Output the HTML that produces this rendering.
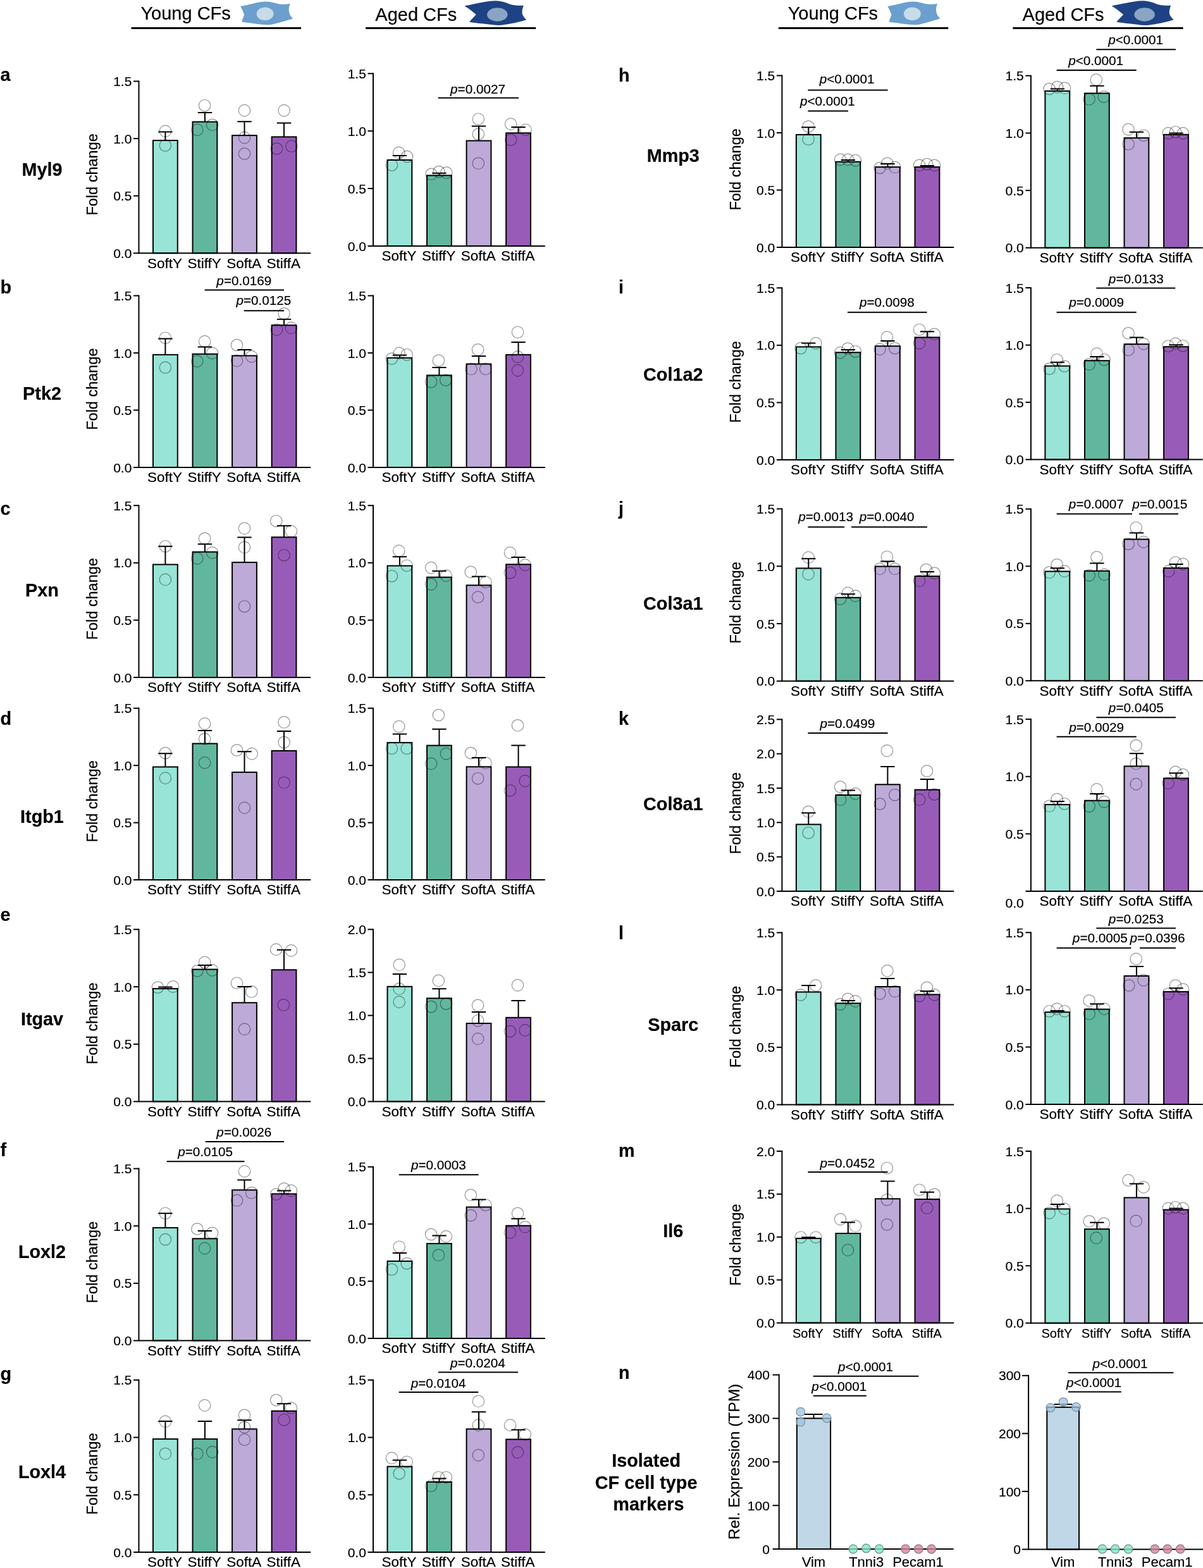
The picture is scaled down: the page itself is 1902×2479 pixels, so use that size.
<!DOCTYPE html>
<html><head><meta charset="utf-8"><title>Figure</title>
<style>html,body{margin:0;padding:0;background:#fff;}svg{display:block;}text{font-family:"Liberation Sans",Arial,sans-serif;fill:#000;stroke:#000;stroke-width:0.2px;}.t{font-size:21px;}.yt{font-size:23.5px;}.p{font-size:20.7px;}.h{font-size:29px;}.b{font-size:28.8px;font-weight:bold;}.c{fill:none;stroke:#000;stroke-opacity:0.42;stroke-width:1.2;}</style>
</head><body>
<svg width="1902" height="2479" viewBox="0 0 1902 2479">
<rect width="1902" height="2479" fill="#fff"/>
<text x="222.4" y="31.4" class="h">Young CFs</text>
<path d="M207.6 44.5H476" stroke="#000" stroke-width="3.2"/>
<g transform="translate(0 0)"><path d="M380.1 10.1 C395 7 410 2.4 420 2.4 C430 2.4 438 6 445 6.8 C450 7.2 455 6.5 458.7 5.7 C457 10 456 15 457.2 19.6 C458 24 461 27 463.2 29.5 C455 32 447 34.5 441.4 35.7 C435 37.5 428 39.3 423.6 39.3 C415 39.3 407 37.5 399.8 36.9 C393 36.3 387 35.5 382.5 34.8 C383 30 385 27 386.1 23.8 C385 19 382 14 380.1 10.1 Z" fill="#6b9fcd"/><ellipse cx="419.1" cy="21.9" rx="13.4" ry="10.3" fill="#c8dbe8"/></g>
<text x="593.3" y="33.3" class="h">Aged CFs</text>
<path d="M578.1 44.5H847.2" stroke="#000" stroke-width="3.2"/>
<g transform="translate(0 0)"><path d="M734.3 9.3 C752 6 770 1.3 783.3 1.3 C795 1.3 802 5.5 808 7.3 C815 9 822 9 828 8.7 C826 13 825 18 825.7 22 C827 26 830 29 832.3 31.3 C824 34 815 36 808 37.3 C801 38.6 794 40 788 40 C779 40 770 38 761.3 37.3 C754 36.5 747 35.5 742 34.7 C746 30 750 26 752.7 23 C747 18 740 13 734.3 9.3 Z" fill="#1e4283"/><ellipse cx="786.3" cy="23" rx="16.3" ry="10.7" fill="#8aa4c4"/></g>
<text x="1245.7" y="31.4" class="h">Young CFs</text>
<path d="M1230.9 44.5H1499.3" stroke="#000" stroke-width="3.2"/>
<g transform="translate(1023.3 0)"><path d="M380.1 10.1 C395 7 410 2.4 420 2.4 C430 2.4 438 6 445 6.8 C450 7.2 455 6.5 458.7 5.7 C457 10 456 15 457.2 19.6 C458 24 461 27 463.2 29.5 C455 32 447 34.5 441.4 35.7 C435 37.5 428 39.3 423.6 39.3 C415 39.3 407 37.5 399.8 36.9 C393 36.3 387 35.5 382.5 34.8 C383 30 385 27 386.1 23.8 C385 19 382 14 380.1 10.1 Z" fill="#6b9fcd"/><ellipse cx="419.1" cy="21.9" rx="13.4" ry="10.3" fill="#c8dbe8"/></g>
<text x="1616.6" y="33.3" class="h">Aged CFs</text>
<path d="M1601.4 44.5H1870.5" stroke="#000" stroke-width="3.2"/>
<g transform="translate(1023.3 0)"><path d="M734.3 9.3 C752 6 770 1.3 783.3 1.3 C795 1.3 802 5.5 808 7.3 C815 9 822 9 828 8.7 C826 13 825 18 825.7 22 C827 26 830 29 832.3 31.3 C824 34 815 36 808 37.3 C801 38.6 794 40 788 40 C779 40 770 38 761.3 37.3 C754 36.5 747 35.5 742 34.7 C746 30 750 26 752.7 23 C747 18 740 13 734.3 9.3 Z" fill="#1e4283"/><ellipse cx="786.3" cy="23" rx="16.3" ry="10.7" fill="#8aa4c4"/></g>
<rect x="242" y="222" width="38.8" height="178.2" fill="#98e4d6" stroke="#000" stroke-width="2"/>
<path d="M261.4 222V208.6M250.2 208.6H272.6" stroke="#000" stroke-width="2" fill="none"/>
<circle cx="261.4" cy="207.4" r="9.2" class="c"/>
<circle cx="261.4" cy="230" r="9.2" class="c"/>
<rect x="304.55" y="192.6" width="38.8" height="207.6" fill="#61b79e" stroke="#000" stroke-width="2"/>
<path d="M323.95 192.6V178M312.75 178H335.15" stroke="#000" stroke-width="2" fill="none"/>
<circle cx="323.6" cy="166.7" r="9.2" class="c"/>
<circle cx="311.8" cy="205.2" r="9.2" class="c"/>
<circle cx="335.6" cy="197.3" r="9.2" class="c"/>
<rect x="367.1" y="214.1" width="38.8" height="186.1" fill="#bdaad9" stroke="#000" stroke-width="2"/>
<path d="M386.5 214.1V192.3M375.3 192.3H397.7" stroke="#000" stroke-width="2" fill="none"/>
<circle cx="386.5" cy="174.6" r="9.2" class="c"/>
<circle cx="386.5" cy="217.6" r="9.2" class="c"/>
<circle cx="386.5" cy="243" r="9.2" class="c"/>
<rect x="429.65" y="216.4" width="38.8" height="183.8" fill="#985cb8" stroke="#000" stroke-width="2"/>
<path d="M449.05 216.4V194.5M437.85 194.5H460.25" stroke="#000" stroke-width="2" fill="none"/>
<circle cx="449.1" cy="174.6" r="9.2" class="c"/>
<circle cx="437.4" cy="235" r="9.2" class="c"/>
<circle cx="460.9" cy="231.2" r="9.2" class="c"/>
<path d="M219.5 127.5V401.2" stroke="#000" stroke-width="2"/>
<path d="M211 400.2H491.3" stroke="#000" stroke-width="2"/>
<text x="208.4" y="407.8" text-anchor="end" class="t">0.0</text>
<path d="M211 309.63H219.5" stroke="#000" stroke-width="2"/>
<text x="208.4" y="317.23" text-anchor="end" class="t">0.5</text>
<path d="M211 219.07H219.5" stroke="#000" stroke-width="2"/>
<text x="208.4" y="226.67" text-anchor="end" class="t">1.0</text>
<path d="M211 128.5H219.5" stroke="#000" stroke-width="2"/>
<text x="208.4" y="136.1" text-anchor="end" class="t">1.5</text>
<text x="260.6" y="423.5" text-anchor="middle" font-size="22.5">SoftY</text>
<text x="323.15" y="423.5" text-anchor="middle" font-size="22.5">StiffY</text>
<text x="385.7" y="423.5" text-anchor="middle" font-size="22.5">SoftA</text>
<text x="448.25" y="423.5" text-anchor="middle" font-size="22.5">StiffA</text>
<text transform="translate(153.8 275.9) rotate(-90)" text-anchor="middle" class="yt">Fold change</text>
<rect x="612.5" y="253" width="38.8" height="135.9" fill="#98e4d6" stroke="#000" stroke-width="2"/>
<path d="M631.9 253V245.9M620.7 245.9H643.1" stroke="#000" stroke-width="2" fill="none"/>
<circle cx="630.7" cy="241.4" r="9.2" class="c"/>
<circle cx="619.4" cy="261" r="9.2" class="c"/>
<circle cx="643.6" cy="247.5" r="9.2" class="c"/>
<rect x="675.05" y="277.4" width="38.8" height="111.5" fill="#61b79e" stroke="#000" stroke-width="2"/>
<path d="M694.45 277.4V273.7M683.25 273.7H705.65" stroke="#000" stroke-width="2" fill="none"/>
<circle cx="682" cy="275.3" r="9.2" class="c"/>
<circle cx="694" cy="271.5" r="9.2" class="c"/>
<circle cx="705.8" cy="273" r="9.2" class="c"/>
<rect x="737.6" y="222.5" width="38.8" height="166.4" fill="#bdaad9" stroke="#000" stroke-width="2"/>
<path d="M757 222.5V199.5M745.8 199.5H768.2" stroke="#000" stroke-width="2" fill="none"/>
<circle cx="756.3" cy="188.2" r="9.2" class="c"/>
<circle cx="756.3" cy="212" r="9.2" class="c"/>
<circle cx="756.3" cy="258.3" r="9.2" class="c"/>
<rect x="800.15" y="210.3" width="38.8" height="178.6" fill="#985cb8" stroke="#000" stroke-width="2"/>
<path d="M819.55 210.3V201.1M808.35 201.1H830.75" stroke="#000" stroke-width="2" fill="none"/>
<circle cx="807.6" cy="196.1" r="9.2" class="c"/>
<circle cx="831" cy="205.2" r="9.2" class="c"/>
<circle cx="807.6" cy="221" r="9.2" class="c"/>
<path d="M590 115.3V389.9" stroke="#000" stroke-width="2"/>
<path d="M581.5 388.9H861.8" stroke="#000" stroke-width="2"/>
<text x="578.9" y="396.5" text-anchor="end" class="t">0.0</text>
<path d="M581.5 298.03H590" stroke="#000" stroke-width="2"/>
<text x="578.9" y="305.63" text-anchor="end" class="t">0.5</text>
<path d="M581.5 207.17H590" stroke="#000" stroke-width="2"/>
<text x="578.9" y="214.77" text-anchor="end" class="t">1.0</text>
<path d="M581.5 116.3H590" stroke="#000" stroke-width="2"/>
<text x="578.9" y="123.9" text-anchor="end" class="t">1.5</text>
<text x="631.1" y="412.2" text-anchor="middle" font-size="22.5">SoftY</text>
<text x="693.65" y="412.2" text-anchor="middle" font-size="22.5">StiffY</text>
<text x="756.2" y="412.2" text-anchor="middle" font-size="22.5">SoftA</text>
<text x="818.75" y="412.2" text-anchor="middle" font-size="22.5">StiffA</text>
<path d="M692.7 154.7H820" stroke="#000" stroke-width="2"/>
<text x="755.5" y="147.7" text-anchor="middle" class="p"><tspan font-style="italic">p</tspan>=0.0027</text>
<rect x="242" y="560.8" width="38.8" height="178.1" fill="#98e4d6" stroke="#000" stroke-width="2"/>
<path d="M261.4 560.8V535.4M250.2 535.4H272.6" stroke="#000" stroke-width="2" fill="none"/>
<circle cx="261.4" cy="534.2" r="9.2" class="c"/>
<circle cx="261.4" cy="581" r="9.2" class="c"/>
<rect x="304.55" y="559.7" width="38.8" height="179.2" fill="#61b79e" stroke="#000" stroke-width="2"/>
<path d="M323.95 559.7V548.5M312.75 548.5H335.15" stroke="#000" stroke-width="2" fill="none"/>
<circle cx="323.6" cy="539.9" r="9.2" class="c"/>
<circle cx="311.8" cy="571.1" r="9.2" class="c"/>
<circle cx="335.6" cy="558.4" r="9.2" class="c"/>
<rect x="367.1" y="562.4" width="38.8" height="176.5" fill="#bdaad9" stroke="#000" stroke-width="2"/>
<path d="M386.5 562.4V553M375.3 553H397.7" stroke="#000" stroke-width="2" fill="none"/>
<circle cx="374.5" cy="545.5" r="9.2" class="c"/>
<circle cx="374.5" cy="570.4" r="9.2" class="c"/>
<circle cx="397.8" cy="563.6" r="9.2" class="c"/>
<rect x="429.65" y="514.2" width="38.8" height="224.7" fill="#985cb8" stroke="#000" stroke-width="2"/>
<path d="M449.05 514.2V504.8M437.85 504.8H460.25" stroke="#000" stroke-width="2" fill="none"/>
<circle cx="449.1" cy="495.8" r="9.2" class="c"/>
<circle cx="437.4" cy="521.3" r="9.2" class="c"/>
<circle cx="460.4" cy="518.4" r="9.2" class="c"/>
<path d="M219.5 466.5V739.9" stroke="#000" stroke-width="2"/>
<path d="M211 738.9H491.3" stroke="#000" stroke-width="2"/>
<text x="208.4" y="746.5" text-anchor="end" class="t">0.0</text>
<path d="M211 648.43H219.5" stroke="#000" stroke-width="2"/>
<text x="208.4" y="656.03" text-anchor="end" class="t">0.5</text>
<path d="M211 557.97H219.5" stroke="#000" stroke-width="2"/>
<text x="208.4" y="565.57" text-anchor="end" class="t">1.0</text>
<path d="M211 467.5H219.5" stroke="#000" stroke-width="2"/>
<text x="208.4" y="475.1" text-anchor="end" class="t">1.5</text>
<text x="260.6" y="762.2" text-anchor="middle" font-size="22.5">SoftY</text>
<text x="323.15" y="762.2" text-anchor="middle" font-size="22.5">StiffY</text>
<text x="385.7" y="762.2" text-anchor="middle" font-size="22.5">SoftA</text>
<text x="448.25" y="762.2" text-anchor="middle" font-size="22.5">StiffA</text>
<text transform="translate(153.8 615.1) rotate(-90)" text-anchor="middle" class="yt">Fold change</text>
<path d="M323.6 458.5H449.1" stroke="#000" stroke-width="2"/>
<text x="385.8" y="450.5" text-anchor="middle" class="p"><tspan font-style="italic">p</tspan>=0.0169</text>
<path d="M385.8 491.3H449.1" stroke="#000" stroke-width="2"/>
<text x="416.9" y="481.5" text-anchor="middle" class="p"><tspan font-style="italic">p</tspan>=0.0125</text>
<rect x="612.5" y="565.8" width="38.8" height="173.1" fill="#98e4d6" stroke="#000" stroke-width="2"/>
<path d="M631.9 565.8V561.4M620.7 561.4H643.1" stroke="#000" stroke-width="2" fill="none"/>
<circle cx="619.4" cy="567" r="9.2" class="c"/>
<circle cx="631.2" cy="558.4" r="9.2" class="c"/>
<circle cx="643.2" cy="560.7" r="9.2" class="c"/>
<rect x="675.05" y="593.4" width="38.8" height="145.5" fill="#61b79e" stroke="#000" stroke-width="2"/>
<path d="M694.45 593.4V581M683.25 581H705.65" stroke="#000" stroke-width="2" fill="none"/>
<circle cx="693.4" cy="570" r="9.2" class="c"/>
<circle cx="681.6" cy="603.7" r="9.2" class="c"/>
<circle cx="704.7" cy="601" r="9.2" class="c"/>
<rect x="737.6" y="575.5" width="38.8" height="163.4" fill="#bdaad9" stroke="#000" stroke-width="2"/>
<path d="M757 575.5V563M745.8 563H768.2" stroke="#000" stroke-width="2" fill="none"/>
<circle cx="755.6" cy="552.8" r="9.2" class="c"/>
<circle cx="745" cy="583.3" r="9.2" class="c"/>
<circle cx="767.6" cy="583.3" r="9.2" class="c"/>
<rect x="800.15" y="560.8" width="38.8" height="178.1" fill="#985cb8" stroke="#000" stroke-width="2"/>
<path d="M819.55 560.8V541M808.35 541H830.75" stroke="#000" stroke-width="2" fill="none"/>
<circle cx="818.5" cy="525.2" r="9.2" class="c"/>
<circle cx="818.5" cy="564.1" r="9.2" class="c"/>
<circle cx="818.5" cy="585.6" r="9.2" class="c"/>
<path d="M590 466.5V739.9" stroke="#000" stroke-width="2"/>
<path d="M581.5 738.9H861.8" stroke="#000" stroke-width="2"/>
<text x="578.9" y="746.5" text-anchor="end" class="t">0.0</text>
<path d="M581.5 648.43H590" stroke="#000" stroke-width="2"/>
<text x="578.9" y="656.03" text-anchor="end" class="t">0.5</text>
<path d="M581.5 557.97H590" stroke="#000" stroke-width="2"/>
<text x="578.9" y="565.57" text-anchor="end" class="t">1.0</text>
<path d="M581.5 467.5H590" stroke="#000" stroke-width="2"/>
<text x="578.9" y="475.1" text-anchor="end" class="t">1.5</text>
<text x="631.1" y="762.2" text-anchor="middle" font-size="22.5">SoftY</text>
<text x="693.65" y="762.2" text-anchor="middle" font-size="22.5">StiffY</text>
<text x="756.2" y="762.2" text-anchor="middle" font-size="22.5">SoftA</text>
<text x="818.75" y="762.2" text-anchor="middle" font-size="22.5">StiffA</text>
<rect x="242" y="892.5" width="38.8" height="178.6" fill="#98e4d6" stroke="#000" stroke-width="2"/>
<path d="M261.4 892.5V863.7M250.2 863.7H272.6" stroke="#000" stroke-width="2" fill="none"/>
<circle cx="261.4" cy="863.7" r="9.2" class="c"/>
<circle cx="261.4" cy="916.4" r="9.2" class="c"/>
<rect x="304.55" y="872.6" width="38.8" height="198.5" fill="#61b79e" stroke="#000" stroke-width="2"/>
<path d="M323.95 872.6V860.3M312.75 860.3H335.15" stroke="#000" stroke-width="2" fill="none"/>
<circle cx="323.6" cy="851.3" r="9.2" class="c"/>
<circle cx="311.8" cy="882.9" r="9.2" class="c"/>
<circle cx="335.6" cy="873.9" r="9.2" class="c"/>
<rect x="367.1" y="889.1" width="38.8" height="182" fill="#bdaad9" stroke="#000" stroke-width="2"/>
<path d="M386.5 889.1V849.4M375.3 849.4H397.7" stroke="#000" stroke-width="2" fill="none"/>
<circle cx="386.5" cy="835.4" r="9.2" class="c"/>
<circle cx="386.5" cy="865.3" r="9.2" class="c"/>
<circle cx="386.5" cy="958.7" r="9.2" class="c"/>
<rect x="429.65" y="849.3" width="38.8" height="221.8" fill="#985cb8" stroke="#000" stroke-width="2"/>
<path d="M449.05 849.3V831.3M437.85 831.3H460.25" stroke="#000" stroke-width="2" fill="none"/>
<circle cx="436.7" cy="823.7" r="9.2" class="c"/>
<circle cx="460.4" cy="839.9" r="9.2" class="c"/>
<circle cx="449.1" cy="877.7" r="9.2" class="c"/>
<path d="M219.5 798.2V1072.1" stroke="#000" stroke-width="2"/>
<path d="M211 1071.1H491.3" stroke="#000" stroke-width="2"/>
<text x="208.4" y="1078.7" text-anchor="end" class="t">0.0</text>
<path d="M211 980.47H219.5" stroke="#000" stroke-width="2"/>
<text x="208.4" y="988.07" text-anchor="end" class="t">0.5</text>
<path d="M211 889.83H219.5" stroke="#000" stroke-width="2"/>
<text x="208.4" y="897.43" text-anchor="end" class="t">1.0</text>
<path d="M211 799.2H219.5" stroke="#000" stroke-width="2"/>
<text x="208.4" y="806.8" text-anchor="end" class="t">1.5</text>
<text x="260.6" y="1094.4" text-anchor="middle" font-size="22.5">SoftY</text>
<text x="323.15" y="1094.4" text-anchor="middle" font-size="22.5">StiffY</text>
<text x="385.7" y="1094.4" text-anchor="middle" font-size="22.5">SoftA</text>
<text x="448.25" y="1094.4" text-anchor="middle" font-size="22.5">StiffA</text>
<text transform="translate(153.8 946.8) rotate(-90)" text-anchor="middle" class="yt">Fold change</text>
<rect x="612.5" y="894.5" width="38.8" height="176.6" fill="#98e4d6" stroke="#000" stroke-width="2"/>
<path d="M631.9 894.5V880.2M620.7 880.2H643.1" stroke="#000" stroke-width="2" fill="none"/>
<circle cx="630.7" cy="870.9" r="9.2" class="c"/>
<circle cx="619.4" cy="910.7" r="9.2" class="c"/>
<circle cx="643.2" cy="894.2" r="9.2" class="c"/>
<rect x="675.05" y="912.6" width="38.8" height="158.5" fill="#61b79e" stroke="#000" stroke-width="2"/>
<path d="M694.45 912.6V902.8M683.25 902.8H705.65" stroke="#000" stroke-width="2" fill="none"/>
<circle cx="681.6" cy="897.6" r="9.2" class="c"/>
<circle cx="681.6" cy="923.6" r="9.2" class="c"/>
<circle cx="705.4" cy="910.1" r="9.2" class="c"/>
<rect x="737.6" y="925.3" width="38.8" height="145.8" fill="#bdaad9" stroke="#000" stroke-width="2"/>
<path d="M757 925.3V911.6M745.8 911.6H768.2" stroke="#000" stroke-width="2" fill="none"/>
<circle cx="744.3" cy="904.4" r="9.2" class="c"/>
<circle cx="768" cy="920.2" r="9.2" class="c"/>
<circle cx="755.6" cy="944" r="9.2" class="c"/>
<rect x="800.15" y="892.3" width="38.8" height="178.8" fill="#985cb8" stroke="#000" stroke-width="2"/>
<path d="M819.55 892.3V881.1M808.35 881.1H830.75" stroke="#000" stroke-width="2" fill="none"/>
<circle cx="806.5" cy="873.9" r="9.2" class="c"/>
<circle cx="830.2" cy="893.1" r="9.2" class="c"/>
<circle cx="806.5" cy="905.5" r="9.2" class="c"/>
<path d="M590 798.2V1072.1" stroke="#000" stroke-width="2"/>
<path d="M581.5 1071.1H861.8" stroke="#000" stroke-width="2"/>
<text x="578.9" y="1078.7" text-anchor="end" class="t">0.0</text>
<path d="M581.5 980.47H590" stroke="#000" stroke-width="2"/>
<text x="578.9" y="988.07" text-anchor="end" class="t">0.5</text>
<path d="M581.5 889.83H590" stroke="#000" stroke-width="2"/>
<text x="578.9" y="897.43" text-anchor="end" class="t">1.0</text>
<path d="M581.5 799.2H590" stroke="#000" stroke-width="2"/>
<text x="578.9" y="806.8" text-anchor="end" class="t">1.5</text>
<text x="631.1" y="1094.4" text-anchor="middle" font-size="22.5">SoftY</text>
<text x="693.65" y="1094.4" text-anchor="middle" font-size="22.5">StiffY</text>
<text x="756.2" y="1094.4" text-anchor="middle" font-size="22.5">SoftA</text>
<text x="818.75" y="1094.4" text-anchor="middle" font-size="22.5">StiffA</text>
<rect x="242" y="1212.5" width="38.8" height="178.6" fill="#98e4d6" stroke="#000" stroke-width="2"/>
<path d="M261.4 1212.5V1191.2M250.2 1191.2H272.6" stroke="#000" stroke-width="2" fill="none"/>
<circle cx="261.4" cy="1190.5" r="9.2" class="c"/>
<circle cx="261.4" cy="1230.1" r="9.2" class="c"/>
<rect x="304.55" y="1175.6" width="38.8" height="215.5" fill="#61b79e" stroke="#000" stroke-width="2"/>
<path d="M323.95 1175.6V1155M312.75 1155H335.15" stroke="#000" stroke-width="2" fill="none"/>
<circle cx="323.6" cy="1144.1" r="9.2" class="c"/>
<circle cx="323.6" cy="1168.3" r="9.2" class="c"/>
<circle cx="323.6" cy="1205.9" r="9.2" class="c"/>
<rect x="367.1" y="1220.9" width="38.8" height="170.2" fill="#bdaad9" stroke="#000" stroke-width="2"/>
<path d="M386.5 1220.9V1188.2M375.3 1188.2H397.7" stroke="#000" stroke-width="2" fill="none"/>
<circle cx="374.5" cy="1186" r="9.2" class="c"/>
<circle cx="398.2" cy="1191.6" r="9.2" class="c"/>
<circle cx="386.5" cy="1277.1" r="9.2" class="c"/>
<rect x="429.65" y="1187" width="38.8" height="204.1" fill="#985cb8" stroke="#000" stroke-width="2"/>
<path d="M449.05 1187V1156.1M437.85 1156.1H460.25" stroke="#000" stroke-width="2" fill="none"/>
<circle cx="449.1" cy="1141.8" r="9.2" class="c"/>
<circle cx="449.1" cy="1173.5" r="9.2" class="c"/>
<circle cx="449.1" cy="1237.3" r="9.2" class="c"/>
<path d="M219.5 1118.7V1392.1" stroke="#000" stroke-width="2"/>
<path d="M211 1391.1H491.3" stroke="#000" stroke-width="2"/>
<text x="208.4" y="1398.7" text-anchor="end" class="t">0.0</text>
<path d="M211 1300.63H219.5" stroke="#000" stroke-width="2"/>
<text x="208.4" y="1308.23" text-anchor="end" class="t">0.5</text>
<path d="M211 1210.17H219.5" stroke="#000" stroke-width="2"/>
<text x="208.4" y="1217.77" text-anchor="end" class="t">1.0</text>
<path d="M211 1119.7H219.5" stroke="#000" stroke-width="2"/>
<text x="208.4" y="1127.3" text-anchor="end" class="t">1.5</text>
<text x="260.6" y="1414.4" text-anchor="middle" font-size="22.5">SoftY</text>
<text x="323.15" y="1414.4" text-anchor="middle" font-size="22.5">StiffY</text>
<text x="385.7" y="1414.4" text-anchor="middle" font-size="22.5">SoftA</text>
<text x="448.25" y="1414.4" text-anchor="middle" font-size="22.5">StiffA</text>
<text transform="translate(153.8 1266.8) rotate(-90)" text-anchor="middle" class="yt">Fold change</text>
<rect x="612.5" y="1174.1" width="38.8" height="217" fill="#98e4d6" stroke="#000" stroke-width="2"/>
<path d="M631.9 1174.1V1160.4M620.7 1160.4H643.1" stroke="#000" stroke-width="2" fill="none"/>
<circle cx="630.7" cy="1148.6" r="9.2" class="c"/>
<circle cx="619.4" cy="1183.2" r="9.2" class="c"/>
<circle cx="643.2" cy="1183.2" r="9.2" class="c"/>
<rect x="675.05" y="1178.6" width="38.8" height="212.5" fill="#61b79e" stroke="#000" stroke-width="2"/>
<path d="M694.45 1178.6V1152.7M683.25 1152.7H705.65" stroke="#000" stroke-width="2" fill="none"/>
<circle cx="693.4" cy="1130.5" r="9.2" class="c"/>
<circle cx="705.4" cy="1191.6" r="9.2" class="c"/>
<circle cx="681.6" cy="1207.4" r="9.2" class="c"/>
<rect x="737.6" y="1212.3" width="38.8" height="178.8" fill="#bdaad9" stroke="#000" stroke-width="2"/>
<path d="M757 1212.3V1197.9M745.8 1197.9H768.2" stroke="#000" stroke-width="2" fill="none"/>
<circle cx="744.3" cy="1190.5" r="9.2" class="c"/>
<circle cx="768" cy="1206.3" r="9.2" class="c"/>
<circle cx="755.6" cy="1230.7" r="9.2" class="c"/>
<rect x="800.15" y="1212.5" width="38.8" height="178.6" fill="#985cb8" stroke="#000" stroke-width="2"/>
<path d="M819.55 1212.5V1178.5M808.35 1178.5H830.75" stroke="#000" stroke-width="2" fill="none"/>
<circle cx="818.5" cy="1146.8" r="9.2" class="c"/>
<circle cx="830.2" cy="1234.6" r="9.2" class="c"/>
<circle cx="806.5" cy="1249.7" r="9.2" class="c"/>
<path d="M590 1118.7V1392.1" stroke="#000" stroke-width="2"/>
<path d="M581.5 1391.1H861.8" stroke="#000" stroke-width="2"/>
<text x="578.9" y="1398.7" text-anchor="end" class="t">0.0</text>
<path d="M581.5 1300.63H590" stroke="#000" stroke-width="2"/>
<text x="578.9" y="1308.23" text-anchor="end" class="t">0.5</text>
<path d="M581.5 1210.17H590" stroke="#000" stroke-width="2"/>
<text x="578.9" y="1217.77" text-anchor="end" class="t">1.0</text>
<path d="M581.5 1119.7H590" stroke="#000" stroke-width="2"/>
<text x="578.9" y="1127.3" text-anchor="end" class="t">1.5</text>
<text x="631.1" y="1414.4" text-anchor="middle" font-size="22.5">SoftY</text>
<text x="693.65" y="1414.4" text-anchor="middle" font-size="22.5">StiffY</text>
<text x="756.2" y="1414.4" text-anchor="middle" font-size="22.5">SoftA</text>
<text x="818.75" y="1414.4" text-anchor="middle" font-size="22.5">StiffA</text>
<rect x="242" y="1563.1" width="38.8" height="178.4" fill="#98e4d6" stroke="#000" stroke-width="2"/>
<path d="M261.4 1563.1V1560.6M250.2 1560.6H272.6" stroke="#000" stroke-width="2" fill="none"/>
<circle cx="249.4" cy="1561" r="9.2" class="c"/>
<circle cx="273.4" cy="1559.9" r="9.2" class="c"/>
<rect x="304.55" y="1532.6" width="38.8" height="208.9" fill="#61b79e" stroke="#000" stroke-width="2"/>
<path d="M323.95 1532.6V1526M312.75 1526H335.15" stroke="#000" stroke-width="2" fill="none"/>
<circle cx="323.6" cy="1521.4" r="9.2" class="c"/>
<circle cx="311.8" cy="1535" r="9.2" class="c"/>
<circle cx="335.6" cy="1533.9" r="9.2" class="c"/>
<rect x="367.1" y="1585.3" width="38.8" height="156.2" fill="#bdaad9" stroke="#000" stroke-width="2"/>
<path d="M386.5 1585.3V1559.9M375.3 1559.9H397.7" stroke="#000" stroke-width="2" fill="none"/>
<circle cx="374.5" cy="1554.2" r="9.2" class="c"/>
<circle cx="397.8" cy="1567.8" r="9.2" class="c"/>
<circle cx="386.5" cy="1627.1" r="9.2" class="c"/>
<rect x="429.65" y="1533.3" width="38.8" height="208.2" fill="#985cb8" stroke="#000" stroke-width="2"/>
<path d="M449.05 1533.3V1501.8M437.85 1501.8H460.25" stroke="#000" stroke-width="2" fill="none"/>
<circle cx="436.7" cy="1501.1" r="9.2" class="c"/>
<circle cx="460.4" cy="1502.9" r="9.2" class="c"/>
<circle cx="448.4" cy="1588.8" r="9.2" class="c"/>
<path d="M219.5 1468.4V1742.5" stroke="#000" stroke-width="2"/>
<path d="M211 1741.5H491.3" stroke="#000" stroke-width="2"/>
<text x="208.4" y="1749.1" text-anchor="end" class="t">0.0</text>
<path d="M211 1650.8H219.5" stroke="#000" stroke-width="2"/>
<text x="208.4" y="1658.4" text-anchor="end" class="t">0.5</text>
<path d="M211 1560.1H219.5" stroke="#000" stroke-width="2"/>
<text x="208.4" y="1567.7" text-anchor="end" class="t">1.0</text>
<path d="M211 1469.4H219.5" stroke="#000" stroke-width="2"/>
<text x="208.4" y="1477" text-anchor="end" class="t">1.5</text>
<text x="260.6" y="1764.8" text-anchor="middle" font-size="22.5">SoftY</text>
<text x="323.15" y="1764.8" text-anchor="middle" font-size="22.5">StiffY</text>
<text x="385.7" y="1764.8" text-anchor="middle" font-size="22.5">SoftA</text>
<text x="448.25" y="1764.8" text-anchor="middle" font-size="22.5">StiffA</text>
<text transform="translate(153.8 1618.1) rotate(-90)" text-anchor="middle" class="yt">Fold change</text>
<rect x="612.5" y="1559.8" width="38.8" height="181.7" fill="#98e4d6" stroke="#000" stroke-width="2"/>
<path d="M631.9 1559.8V1540M620.7 1540H643.1" stroke="#000" stroke-width="2" fill="none"/>
<circle cx="631.2" cy="1525.3" r="9.2" class="c"/>
<circle cx="631.2" cy="1563.3" r="9.2" class="c"/>
<circle cx="631.2" cy="1584.1" r="9.2" class="c"/>
<rect x="675.05" y="1578.3" width="38.8" height="163.2" fill="#61b79e" stroke="#000" stroke-width="2"/>
<path d="M694.45 1578.3V1563.3M683.25 1563.3H705.65" stroke="#000" stroke-width="2" fill="none"/>
<circle cx="693.4" cy="1550.4" r="9.2" class="c"/>
<circle cx="681.6" cy="1591.5" r="9.2" class="c"/>
<circle cx="705.4" cy="1587" r="9.2" class="c"/>
<rect x="737.6" y="1617.9" width="38.8" height="123.6" fill="#bdaad9" stroke="#000" stroke-width="2"/>
<path d="M757 1617.9V1600.1M745.8 1600.1H768.2" stroke="#000" stroke-width="2" fill="none"/>
<circle cx="755.6" cy="1589.3" r="9.2" class="c"/>
<circle cx="755.6" cy="1613.7" r="9.2" class="c"/>
<circle cx="755.6" cy="1642.4" r="9.2" class="c"/>
<rect x="800.15" y="1608.8" width="38.8" height="132.7" fill="#985cb8" stroke="#000" stroke-width="2"/>
<path d="M819.55 1608.8V1582M808.35 1582H830.75" stroke="#000" stroke-width="2" fill="none"/>
<circle cx="818.5" cy="1557.6" r="9.2" class="c"/>
<circle cx="806.5" cy="1630.5" r="9.2" class="c"/>
<circle cx="830.2" cy="1628.9" r="9.2" class="c"/>
<path d="M590 1468.4V1742.5" stroke="#000" stroke-width="2"/>
<path d="M581.5 1741.5H861.8" stroke="#000" stroke-width="2"/>
<text x="578.9" y="1749.1" text-anchor="end" class="t">0.0</text>
<path d="M581.5 1673.47H590" stroke="#000" stroke-width="2"/>
<text x="578.9" y="1681.07" text-anchor="end" class="t">0.5</text>
<path d="M581.5 1605.45H590" stroke="#000" stroke-width="2"/>
<text x="578.9" y="1613.05" text-anchor="end" class="t">1.0</text>
<path d="M581.5 1537.43H590" stroke="#000" stroke-width="2"/>
<text x="578.9" y="1545.03" text-anchor="end" class="t">1.5</text>
<path d="M581.5 1469.4H590" stroke="#000" stroke-width="2"/>
<text x="578.9" y="1477" text-anchor="end" class="t">2.0</text>
<text x="631.1" y="1764.8" text-anchor="middle" font-size="22.5">SoftY</text>
<text x="693.65" y="1764.8" text-anchor="middle" font-size="22.5">StiffY</text>
<text x="756.2" y="1764.8" text-anchor="middle" font-size="22.5">SoftA</text>
<text x="818.75" y="1764.8" text-anchor="middle" font-size="22.5">StiffA</text>
<rect x="242" y="1941.1" width="38.8" height="178.4" fill="#98e4d6" stroke="#000" stroke-width="2"/>
<path d="M261.4 1941.1V1918.2M250.2 1918.2H272.6" stroke="#000" stroke-width="2" fill="none"/>
<circle cx="261.4" cy="1918.2" r="9.2" class="c"/>
<circle cx="261.4" cy="1959.5" r="9.2" class="c"/>
<rect x="304.55" y="1958.3" width="38.8" height="161.2" fill="#61b79e" stroke="#000" stroke-width="2"/>
<path d="M323.95 1958.3V1946M312.75 1946H335.15" stroke="#000" stroke-width="2" fill="none"/>
<circle cx="311.8" cy="1943" r="9.2" class="c"/>
<circle cx="335.6" cy="1949.4" r="9.2" class="c"/>
<circle cx="323.6" cy="1973.6" r="9.2" class="c"/>
<rect x="367.1" y="1881.4" width="38.8" height="238.1" fill="#bdaad9" stroke="#000" stroke-width="2"/>
<path d="M386.5 1881.4V1865.5M375.3 1865.5H397.7" stroke="#000" stroke-width="2" fill="none"/>
<circle cx="386.5" cy="1851.9" r="9.2" class="c"/>
<circle cx="397.8" cy="1885.8" r="9.2" class="c"/>
<circle cx="374.5" cy="1897.8" r="9.2" class="c"/>
<rect x="429.65" y="1887.5" width="38.8" height="232" fill="#985cb8" stroke="#000" stroke-width="2"/>
<path d="M449.05 1887.5V1882.4M437.85 1882.4H460.25" stroke="#000" stroke-width="2" fill="none"/>
<circle cx="436.7" cy="1888.1" r="9.2" class="c"/>
<circle cx="449.1" cy="1879.3" r="9.2" class="c"/>
<circle cx="460.4" cy="1882.4" r="9.2" class="c"/>
<path d="M219.5 1846.6V2120.5" stroke="#000" stroke-width="2"/>
<path d="M211 2119.5H491.3" stroke="#000" stroke-width="2"/>
<text x="208.4" y="2127.1" text-anchor="end" class="t">0.0</text>
<path d="M211 2028.87H219.5" stroke="#000" stroke-width="2"/>
<text x="208.4" y="2036.47" text-anchor="end" class="t">0.5</text>
<path d="M211 1938.23H219.5" stroke="#000" stroke-width="2"/>
<text x="208.4" y="1945.83" text-anchor="end" class="t">1.0</text>
<path d="M211 1847.6H219.5" stroke="#000" stroke-width="2"/>
<text x="208.4" y="1855.2" text-anchor="end" class="t">1.5</text>
<text x="260.6" y="2142.8" text-anchor="middle" font-size="22.5">SoftY</text>
<text x="323.15" y="2142.8" text-anchor="middle" font-size="22.5">StiffY</text>
<text x="385.7" y="2142.8" text-anchor="middle" font-size="22.5">SoftA</text>
<text x="448.25" y="2142.8" text-anchor="middle" font-size="22.5">StiffA</text>
<text transform="translate(153.8 1995.6) rotate(-90)" text-anchor="middle" class="yt">Fold change</text>
<path d="M324.7 1805.1H449.1" stroke="#000" stroke-width="2"/>
<text x="385.8" y="1797.1" text-anchor="middle" class="p"><tspan font-style="italic">p</tspan>=0.0026</text>
<path d="M263.6 1836.3H386.5" stroke="#000" stroke-width="2"/>
<text x="324.7" y="1828.4" text-anchor="middle" class="p"><tspan font-style="italic">p</tspan>=0.0105</text>
<rect x="612.5" y="1993.9" width="38.8" height="122.1" fill="#98e4d6" stroke="#000" stroke-width="2"/>
<path d="M631.9 1993.9V1981M620.7 1981H643.1" stroke="#000" stroke-width="2" fill="none"/>
<circle cx="631.2" cy="1971.2" r="9.2" class="c"/>
<circle cx="619.4" cy="2007" r="9.2" class="c"/>
<circle cx="643.2" cy="1997.5" r="9.2" class="c"/>
<rect x="675.05" y="1966.1" width="38.8" height="149.9" fill="#61b79e" stroke="#000" stroke-width="2"/>
<path d="M694.45 1966.1V1953.4M683.25 1953.4H705.65" stroke="#000" stroke-width="2" fill="none"/>
<circle cx="681.6" cy="1951.5" r="9.2" class="c"/>
<circle cx="705.4" cy="1954.9" r="9.2" class="c"/>
<circle cx="693.4" cy="1984.3" r="9.2" class="c"/>
<rect x="737.6" y="1908.4" width="38.8" height="207.6" fill="#bdaad9" stroke="#000" stroke-width="2"/>
<path d="M757 1908.4V1896.6M745.8 1896.6H768.2" stroke="#000" stroke-width="2" fill="none"/>
<circle cx="744.3" cy="1889.3" r="9.2" class="c"/>
<circle cx="768" cy="1905.2" r="9.2" class="c"/>
<circle cx="744.3" cy="1921.5" r="9.2" class="c"/>
<rect x="800.15" y="1937.8" width="38.8" height="178.2" fill="#985cb8" stroke="#000" stroke-width="2"/>
<path d="M819.55 1937.8V1926.7M808.35 1926.7H830.75" stroke="#000" stroke-width="2" fill="none"/>
<circle cx="818.5" cy="1918.3" r="9.2" class="c"/>
<circle cx="830.2" cy="1939.8" r="9.2" class="c"/>
<circle cx="806.5" cy="1948.6" r="9.2" class="c"/>
<path d="M590 1843.8V2117" stroke="#000" stroke-width="2"/>
<path d="M581.5 2116H861.8" stroke="#000" stroke-width="2"/>
<text x="578.9" y="2123.6" text-anchor="end" class="t">0.0</text>
<path d="M581.5 2025.6H590" stroke="#000" stroke-width="2"/>
<text x="578.9" y="2033.2" text-anchor="end" class="t">0.5</text>
<path d="M581.5 1935.2H590" stroke="#000" stroke-width="2"/>
<text x="578.9" y="1942.8" text-anchor="end" class="t">1.0</text>
<path d="M581.5 1844.8H590" stroke="#000" stroke-width="2"/>
<text x="578.9" y="1852.4" text-anchor="end" class="t">1.5</text>
<text x="631.1" y="2139.3" text-anchor="middle" font-size="22.5">SoftY</text>
<text x="693.65" y="2139.3" text-anchor="middle" font-size="22.5">StiffY</text>
<text x="756.2" y="2139.3" text-anchor="middle" font-size="22.5">SoftA</text>
<text x="818.75" y="2139.3" text-anchor="middle" font-size="22.5">StiffA</text>
<path d="M630.7 1857.2H756.7" stroke="#000" stroke-width="2"/>
<text x="693.4" y="1848.6" text-anchor="middle" class="p"><tspan font-style="italic">p</tspan>=0.0003</text>
<rect x="242" y="2275.1" width="38.8" height="178.9" fill="#98e4d6" stroke="#000" stroke-width="2"/>
<path d="M261.4 2275.1V2247M250.2 2247H272.6" stroke="#000" stroke-width="2" fill="none"/>
<circle cx="261.4" cy="2247.4" r="9.2" class="c"/>
<circle cx="261.4" cy="2298.3" r="9.2" class="c"/>
<rect x="304.55" y="2275.1" width="38.8" height="178.9" fill="#61b79e" stroke="#000" stroke-width="2"/>
<path d="M323.95 2275.1V2247M312.75 2247H335.15" stroke="#000" stroke-width="2" fill="none"/>
<circle cx="323.6" cy="2221.9" r="9.2" class="c"/>
<circle cx="311.8" cy="2298.3" r="9.2" class="c"/>
<circle cx="335.6" cy="2295.6" r="9.2" class="c"/>
<rect x="367.1" y="2259.3" width="38.8" height="194.7" fill="#bdaad9" stroke="#000" stroke-width="2"/>
<path d="M386.5 2259.3V2245.2M375.3 2245.2H397.7" stroke="#000" stroke-width="2" fill="none"/>
<circle cx="386.5" cy="2237.3" r="9.2" class="c"/>
<circle cx="386.5" cy="2256.5" r="9.2" class="c"/>
<circle cx="386.5" cy="2276.2" r="9.2" class="c"/>
<rect x="429.65" y="2230.8" width="38.8" height="223.2" fill="#985cb8" stroke="#000" stroke-width="2"/>
<path d="M449.05 2230.8V2219.2M437.85 2219.2H460.25" stroke="#000" stroke-width="2" fill="none"/>
<circle cx="436.7" cy="2213.5" r="9.2" class="c"/>
<circle cx="460.4" cy="2226" r="9.2" class="c"/>
<circle cx="449.1" cy="2244.7" r="9.2" class="c"/>
<path d="M219.5 2180.8V2455" stroke="#000" stroke-width="2"/>
<path d="M211 2454H491.3" stroke="#000" stroke-width="2"/>
<text x="208.4" y="2461.6" text-anchor="end" class="t">0.0</text>
<path d="M211 2363.27H219.5" stroke="#000" stroke-width="2"/>
<text x="208.4" y="2370.87" text-anchor="end" class="t">0.5</text>
<path d="M211 2272.53H219.5" stroke="#000" stroke-width="2"/>
<text x="208.4" y="2280.13" text-anchor="end" class="t">1.0</text>
<path d="M211 2181.8H219.5" stroke="#000" stroke-width="2"/>
<text x="208.4" y="2189.4" text-anchor="end" class="t">1.5</text>
<text x="260.6" y="2477.3" text-anchor="middle" font-size="22.5">SoftY</text>
<text x="323.15" y="2477.3" text-anchor="middle" font-size="22.5">StiffY</text>
<text x="385.7" y="2477.3" text-anchor="middle" font-size="22.5">SoftA</text>
<text x="448.25" y="2477.3" text-anchor="middle" font-size="22.5">StiffA</text>
<text transform="translate(153.8 2330) rotate(-90)" text-anchor="middle" class="yt">Fold change</text>
<rect x="612.5" y="2318.6" width="38.8" height="135.4" fill="#98e4d6" stroke="#000" stroke-width="2"/>
<path d="M631.9 2318.6V2308.5M620.7 2308.5H643.1" stroke="#000" stroke-width="2" fill="none"/>
<circle cx="619.4" cy="2305.1" r="9.2" class="c"/>
<circle cx="643.2" cy="2311.2" r="9.2" class="c"/>
<circle cx="631.2" cy="2329.5" r="9.2" class="c"/>
<rect x="675.05" y="2343" width="38.8" height="111" fill="#61b79e" stroke="#000" stroke-width="2"/>
<path d="M694.45 2343V2337.5M683.25 2337.5H705.65" stroke="#000" stroke-width="2" fill="none"/>
<circle cx="693.4" cy="2335.7" r="9.2" class="c"/>
<circle cx="705.4" cy="2335.7" r="9.2" class="c"/>
<circle cx="681.6" cy="2349.2" r="9.2" class="c"/>
<rect x="737.6" y="2259.3" width="38.8" height="194.7" fill="#bdaad9" stroke="#000" stroke-width="2"/>
<path d="M757 2259.3V2232.3M745.8 2232.3H768.2" stroke="#000" stroke-width="2" fill="none"/>
<circle cx="756.3" cy="2215.3" r="9.2" class="c"/>
<circle cx="756.3" cy="2253.1" r="9.2" class="c"/>
<circle cx="756.3" cy="2300.6" r="9.2" class="c"/>
<rect x="800.15" y="2275.6" width="38.8" height="178.4" fill="#985cb8" stroke="#000" stroke-width="2"/>
<path d="M819.55 2275.6V2260.6M808.35 2260.6H830.75" stroke="#000" stroke-width="2" fill="none"/>
<circle cx="806.5" cy="2253.1" r="9.2" class="c"/>
<circle cx="830.2" cy="2267.8" r="9.2" class="c"/>
<circle cx="818.5" cy="2296.1" r="9.2" class="c"/>
<path d="M590 2180.8V2455" stroke="#000" stroke-width="2"/>
<path d="M581.5 2454H861.8" stroke="#000" stroke-width="2"/>
<text x="578.9" y="2461.6" text-anchor="end" class="t">0.0</text>
<path d="M581.5 2363.27H590" stroke="#000" stroke-width="2"/>
<text x="578.9" y="2370.87" text-anchor="end" class="t">0.5</text>
<path d="M581.5 2272.53H590" stroke="#000" stroke-width="2"/>
<text x="578.9" y="2280.13" text-anchor="end" class="t">1.0</text>
<path d="M581.5 2181.8H590" stroke="#000" stroke-width="2"/>
<text x="578.9" y="2189.4" text-anchor="end" class="t">1.5</text>
<text x="631.1" y="2477.3" text-anchor="middle" font-size="22.5">SoftY</text>
<text x="693.65" y="2477.3" text-anchor="middle" font-size="22.5">StiffY</text>
<text x="756.2" y="2477.3" text-anchor="middle" font-size="22.5">SoftA</text>
<text x="818.75" y="2477.3" text-anchor="middle" font-size="22.5">StiffA</text>
<path d="M693 2169.4H819" stroke="#000" stroke-width="2"/>
<text x="755.4" y="2162.2" text-anchor="middle" class="p"><tspan font-style="italic">p</tspan>=0.0204</text>
<path d="M630.7 2201.1H756.3" stroke="#000" stroke-width="2"/>
<text x="693.2" y="2193.8" text-anchor="middle" class="p"><tspan font-style="italic">p</tspan>=0.0104</text>
<rect x="1258.9" y="212.9" width="38.8" height="178.1" fill="#98e4d6" stroke="#000" stroke-width="2"/>
<path d="M1278.3 212.9V201.2M1267.1 201.2H1289.5" stroke="#000" stroke-width="2" fill="none"/>
<circle cx="1278.1" cy="200" r="9.2" class="c"/>
<circle cx="1278.1" cy="220.2" r="9.2" class="c"/>
<rect x="1321.45" y="255.8" width="38.8" height="135.2" fill="#61b79e" stroke="#000" stroke-width="2"/>
<path d="M1340.85 255.8V253.1M1329.65 253.1H1352.05" stroke="#000" stroke-width="2" fill="none"/>
<circle cx="1328.6" cy="252.4" r="9.2" class="c"/>
<circle cx="1340.5" cy="252.4" r="9.2" class="c"/>
<circle cx="1352.4" cy="253.6" r="9.2" class="c"/>
<rect x="1384" y="264.1" width="38.8" height="126.9" fill="#bdaad9" stroke="#000" stroke-width="2"/>
<path d="M1403.4 264.1V259M1392.2 259H1414.6" stroke="#000" stroke-width="2" fill="none"/>
<circle cx="1391" cy="265.5" r="9.2" class="c"/>
<circle cx="1402.9" cy="258.3" r="9.2" class="c"/>
<circle cx="1414.8" cy="264.3" r="9.2" class="c"/>
<rect x="1446.55" y="264.1" width="38.8" height="126.9" fill="#985cb8" stroke="#000" stroke-width="2"/>
<path d="M1465.95 264.1V261.9M1454.75 261.9H1477.15" stroke="#000" stroke-width="2" fill="none"/>
<circle cx="1453.6" cy="261.4" r="9.2" class="c"/>
<circle cx="1465.5" cy="259.5" r="9.2" class="c"/>
<circle cx="1477.4" cy="261.4" r="9.2" class="c"/>
<path d="M1236.4 118.5V392" stroke="#000" stroke-width="2"/>
<path d="M1227.9 391H1508.2" stroke="#000" stroke-width="2"/>
<text x="1225.3" y="398.6" text-anchor="end" class="t">0.0</text>
<path d="M1227.9 300.5H1236.4" stroke="#000" stroke-width="2"/>
<text x="1225.3" y="308.1" text-anchor="end" class="t">0.5</text>
<path d="M1227.9 210H1236.4" stroke="#000" stroke-width="2"/>
<text x="1225.3" y="217.6" text-anchor="end" class="t">1.0</text>
<path d="M1227.9 119.5H1236.4" stroke="#000" stroke-width="2"/>
<text x="1225.3" y="127.1" text-anchor="end" class="t">1.5</text>
<text x="1277.5" y="414.3" text-anchor="middle" font-size="22.5">SoftY</text>
<text x="1340.05" y="414.3" text-anchor="middle" font-size="22.5">StiffY</text>
<text x="1402.6" y="414.3" text-anchor="middle" font-size="22.5">SoftA</text>
<text x="1465.15" y="414.3" text-anchor="middle" font-size="22.5">StiffA</text>
<text transform="translate(1170.7 267.9) rotate(-90)" text-anchor="middle" class="yt">Fold change</text>
<path d="M1277.4 175.5H1341" stroke="#000" stroke-width="2"/>
<text x="1308.4" y="166.7" text-anchor="middle" class="p"><tspan font-style="italic">p</tspan>&lt;0.0001</text>
<path d="M1277.4 142.4H1403.6" stroke="#000" stroke-width="2"/>
<text x="1339.2" y="132.1" text-anchor="middle" class="p"><tspan font-style="italic">p</tspan>&lt;0.0001</text>
<rect x="1652.4" y="143.9" width="38.8" height="247.9" fill="#98e4d6" stroke="#000" stroke-width="2"/>
<path d="M1671.8 143.9V140.5M1660.6 140.5H1683" stroke="#000" stroke-width="2" fill="none"/>
<circle cx="1659.1" cy="140.5" r="9.2" class="c"/>
<circle cx="1671.6" cy="137.6" r="9.2" class="c"/>
<circle cx="1683.5" cy="139.3" r="9.2" class="c"/>
<rect x="1714.95" y="147.5" width="38.8" height="244.3" fill="#61b79e" stroke="#000" stroke-width="2"/>
<path d="M1734.35 147.5V135.7M1723.15 135.7H1745.55" stroke="#000" stroke-width="2" fill="none"/>
<circle cx="1733.3" cy="126.1" r="9.2" class="c"/>
<circle cx="1722.1" cy="156.8" r="9.2" class="c"/>
<circle cx="1745.3" cy="152.9" r="9.2" class="c"/>
<rect x="1777.5" y="218.1" width="38.8" height="173.7" fill="#bdaad9" stroke="#000" stroke-width="2"/>
<path d="M1796.9 218.1V208.7M1785.7 208.7H1808.1" stroke="#000" stroke-width="2" fill="none"/>
<circle cx="1784" cy="204.6" r="9.2" class="c"/>
<circle cx="1808.2" cy="214.2" r="9.2" class="c"/>
<circle cx="1784" cy="227.8" r="9.2" class="c"/>
<rect x="1840.05" y="212.8" width="38.8" height="179" fill="#985cb8" stroke="#000" stroke-width="2"/>
<path d="M1859.45 212.8V210.6M1848.25 210.6H1870.65" stroke="#000" stroke-width="2" fill="none"/>
<circle cx="1847" cy="210.6" r="9.2" class="c"/>
<circle cx="1858.5" cy="208.7" r="9.2" class="c"/>
<circle cx="1870.4" cy="210.6" r="9.2" class="c"/>
<path d="M1629.9 118.7V392.8" stroke="#000" stroke-width="2"/>
<path d="M1621.4 391.8H1901.7" stroke="#000" stroke-width="2"/>
<text x="1618.8" y="399.4" text-anchor="end" class="t">0.0</text>
<path d="M1621.4 301.1H1629.9" stroke="#000" stroke-width="2"/>
<text x="1618.8" y="308.7" text-anchor="end" class="t">0.5</text>
<path d="M1621.4 210.4H1629.9" stroke="#000" stroke-width="2"/>
<text x="1618.8" y="218" text-anchor="end" class="t">1.0</text>
<path d="M1621.4 119.7H1629.9" stroke="#000" stroke-width="2"/>
<text x="1618.8" y="127.3" text-anchor="end" class="t">1.5</text>
<text x="1671" y="415.1" text-anchor="middle" font-size="22.5">SoftY</text>
<text x="1733.55" y="415.1" text-anchor="middle" font-size="22.5">StiffY</text>
<text x="1796.1" y="415.1" text-anchor="middle" font-size="22.5">SoftA</text>
<text x="1858.65" y="415.1" text-anchor="middle" font-size="22.5">StiffA</text>
<path d="M1670.6 111.1H1796.7" stroke="#000" stroke-width="2"/>
<text x="1732.7" y="102.7" text-anchor="middle" class="p"><tspan font-style="italic">p</tspan>&lt;0.0001</text>
<path d="M1733.3 78.3H1858.9" stroke="#000" stroke-width="2"/>
<text x="1795.6" y="70.4" text-anchor="middle" class="p"><tspan font-style="italic">p</tspan>&lt;0.0001</text>
<rect x="1258.9" y="548.4" width="38.8" height="178.7" fill="#98e4d6" stroke="#000" stroke-width="2"/>
<path d="M1278.3 548.4V542.6M1267.1 542.6H1289.5" stroke="#000" stroke-width="2" fill="none"/>
<circle cx="1266" cy="550.5" r="9.2" class="c"/>
<circle cx="1289.8" cy="542.6" r="9.2" class="c"/>
<rect x="1321.45" y="557.2" width="38.8" height="169.9" fill="#61b79e" stroke="#000" stroke-width="2"/>
<path d="M1340.85 557.2V552.9M1329.65 552.9H1352.05" stroke="#000" stroke-width="2" fill="none"/>
<circle cx="1328.6" cy="557.6" r="9.2" class="c"/>
<circle cx="1340.5" cy="551" r="9.2" class="c"/>
<circle cx="1352.4" cy="555.7" r="9.2" class="c"/>
<rect x="1384" y="547.2" width="38.8" height="179.9" fill="#bdaad9" stroke="#000" stroke-width="2"/>
<path d="M1403.4 547.2V539M1392.2 539H1414.6" stroke="#000" stroke-width="2" fill="none"/>
<circle cx="1402.4" cy="533.1" r="9.2" class="c"/>
<circle cx="1391" cy="552.1" r="9.2" class="c"/>
<circle cx="1414.8" cy="550.5" r="9.2" class="c"/>
<rect x="1446.55" y="533.4" width="38.8" height="193.7" fill="#985cb8" stroke="#000" stroke-width="2"/>
<path d="M1465.95 533.4V524.3M1454.75 524.3H1477.15" stroke="#000" stroke-width="2" fill="none"/>
<circle cx="1453.6" cy="521.2" r="9.2" class="c"/>
<circle cx="1453.6" cy="542.6" r="9.2" class="c"/>
<circle cx="1477.4" cy="528.3" r="9.2" class="c"/>
<path d="M1236.4 454.2V728.1" stroke="#000" stroke-width="2"/>
<path d="M1227.9 727.1H1508.2" stroke="#000" stroke-width="2"/>
<text x="1225.3" y="734.7" text-anchor="end" class="t">0.0</text>
<path d="M1227.9 636.47H1236.4" stroke="#000" stroke-width="2"/>
<text x="1225.3" y="644.07" text-anchor="end" class="t">0.5</text>
<path d="M1227.9 545.83H1236.4" stroke="#000" stroke-width="2"/>
<text x="1225.3" y="553.43" text-anchor="end" class="t">1.0</text>
<path d="M1227.9 455.2H1236.4" stroke="#000" stroke-width="2"/>
<text x="1225.3" y="462.8" text-anchor="end" class="t">1.5</text>
<text x="1277.5" y="750.4" text-anchor="middle" font-size="22.5">SoftY</text>
<text x="1340.05" y="750.4" text-anchor="middle" font-size="22.5">StiffY</text>
<text x="1402.6" y="750.4" text-anchor="middle" font-size="22.5">SoftA</text>
<text x="1465.15" y="750.4" text-anchor="middle" font-size="22.5">StiffA</text>
<text transform="translate(1170.7 603.9) rotate(-90)" text-anchor="middle" class="yt">Fold change</text>
<path d="M1340 493.8H1465.5" stroke="#000" stroke-width="2"/>
<text x="1402.4" y="484.8" text-anchor="middle" class="p"><tspan font-style="italic">p</tspan>=0.0098</text>
<rect x="1652.4" y="578.6" width="38.8" height="148" fill="#98e4d6" stroke="#000" stroke-width="2"/>
<path d="M1671.8 578.6V572.8M1660.6 572.8H1683" stroke="#000" stroke-width="2" fill="none"/>
<circle cx="1671.1" cy="568.7" r="9.2" class="c"/>
<circle cx="1659.1" cy="583" r="9.2" class="c"/>
<circle cx="1683" cy="579" r="9.2" class="c"/>
<rect x="1714.95" y="570.2" width="38.8" height="156.4" fill="#61b79e" stroke="#000" stroke-width="2"/>
<path d="M1734.35 570.2V563.9M1723.15 563.9H1745.55" stroke="#000" stroke-width="2" fill="none"/>
<circle cx="1734" cy="559.1" r="9.2" class="c"/>
<circle cx="1722.1" cy="575.9" r="9.2" class="c"/>
<circle cx="1746" cy="568.7" r="9.2" class="c"/>
<rect x="1777.5" y="544.1" width="38.8" height="182.5" fill="#bdaad9" stroke="#000" stroke-width="2"/>
<path d="M1796.9 544.1V533.5M1785.7 533.5H1808.1" stroke="#000" stroke-width="2" fill="none"/>
<circle cx="1784" cy="526.8" r="9.2" class="c"/>
<circle cx="1784" cy="553.1" r="9.2" class="c"/>
<circle cx="1808" cy="543.6" r="9.2" class="c"/>
<rect x="1840.05" y="548.2" width="38.8" height="178.4" fill="#985cb8" stroke="#000" stroke-width="2"/>
<path d="M1859.45 548.2V545.3M1848.25 545.3H1870.65" stroke="#000" stroke-width="2" fill="none"/>
<circle cx="1847" cy="547.2" r="9.2" class="c"/>
<circle cx="1858.5" cy="543.1" r="9.2" class="c"/>
<circle cx="1870.4" cy="546.7" r="9.2" class="c"/>
<path d="M1629.9 454V727.6" stroke="#000" stroke-width="2"/>
<path d="M1621.4 726.6H1901.7" stroke="#000" stroke-width="2"/>
<text x="1618.8" y="734.2" text-anchor="end" class="t">0.0</text>
<path d="M1621.4 636.07H1629.9" stroke="#000" stroke-width="2"/>
<text x="1618.8" y="643.67" text-anchor="end" class="t">0.5</text>
<path d="M1621.4 545.53H1629.9" stroke="#000" stroke-width="2"/>
<text x="1618.8" y="553.13" text-anchor="end" class="t">1.0</text>
<path d="M1621.4 455H1629.9" stroke="#000" stroke-width="2"/>
<text x="1618.8" y="462.6" text-anchor="end" class="t">1.5</text>
<text x="1671" y="749.9" text-anchor="middle" font-size="22.5">SoftY</text>
<text x="1733.55" y="749.9" text-anchor="middle" font-size="22.5">StiffY</text>
<text x="1796.1" y="749.9" text-anchor="middle" font-size="22.5">SoftA</text>
<text x="1858.65" y="749.9" text-anchor="middle" font-size="22.5">StiffA</text>
<path d="M1670.6 493.8H1796.7" stroke="#000" stroke-width="2"/>
<text x="1733.6" y="484.9" text-anchor="middle" class="p"><tspan font-style="italic">p</tspan>=0.0009</text>
<path d="M1733.3 455.5H1858.2" stroke="#000" stroke-width="2"/>
<text x="1796.3" y="447.9" text-anchor="middle" class="p"><tspan font-style="italic">p</tspan>=0.0133</text>
<rect x="1258.9" y="898.4" width="38.8" height="178.3" fill="#98e4d6" stroke="#000" stroke-width="2"/>
<path d="M1278.3 898.4V883.3M1267.1 883.3H1289.5" stroke="#000" stroke-width="2" fill="none"/>
<circle cx="1278.1" cy="881.4" r="9.2" class="c"/>
<circle cx="1278.1" cy="907.6" r="9.2" class="c"/>
<rect x="1321.45" y="944.8" width="38.8" height="131.9" fill="#61b79e" stroke="#000" stroke-width="2"/>
<path d="M1340.85 944.8V939.3M1329.65 939.3H1352.05" stroke="#000" stroke-width="2" fill="none"/>
<circle cx="1328.6" cy="946.9" r="9.2" class="c"/>
<circle cx="1340.5" cy="937.4" r="9.2" class="c"/>
<circle cx="1352.4" cy="942.1" r="9.2" class="c"/>
<rect x="1384" y="895.5" width="38.8" height="181.2" fill="#bdaad9" stroke="#000" stroke-width="2"/>
<path d="M1403.4 895.5V887.4M1392.2 887.4H1414.6" stroke="#000" stroke-width="2" fill="none"/>
<circle cx="1402.4" cy="880.2" r="9.2" class="c"/>
<circle cx="1391" cy="899.3" r="9.2" class="c"/>
<circle cx="1414.8" cy="899.3" r="9.2" class="c"/>
<rect x="1446.55" y="911" width="38.8" height="165.7" fill="#985cb8" stroke="#000" stroke-width="2"/>
<path d="M1465.95 911V904M1454.75 904H1477.15" stroke="#000" stroke-width="2" fill="none"/>
<circle cx="1464.3" cy="900.5" r="9.2" class="c"/>
<circle cx="1453.6" cy="918.3" r="9.2" class="c"/>
<circle cx="1477.4" cy="906" r="9.2" class="c"/>
<path d="M1236.4 803.5V1077.7" stroke="#000" stroke-width="2"/>
<path d="M1227.9 1076.7H1508.2" stroke="#000" stroke-width="2"/>
<text x="1225.3" y="1084.3" text-anchor="end" class="t">0.0</text>
<path d="M1227.9 985.97H1236.4" stroke="#000" stroke-width="2"/>
<text x="1225.3" y="993.57" text-anchor="end" class="t">0.5</text>
<path d="M1227.9 895.23H1236.4" stroke="#000" stroke-width="2"/>
<text x="1225.3" y="902.83" text-anchor="end" class="t">1.0</text>
<path d="M1227.9 804.5H1236.4" stroke="#000" stroke-width="2"/>
<text x="1225.3" y="812.1" text-anchor="end" class="t">1.5</text>
<text x="1277.5" y="1100" text-anchor="middle" font-size="22.5">SoftY</text>
<text x="1340.05" y="1100" text-anchor="middle" font-size="22.5">StiffY</text>
<text x="1402.6" y="1100" text-anchor="middle" font-size="22.5">SoftA</text>
<text x="1465.15" y="1100" text-anchor="middle" font-size="22.5">StiffA</text>
<text transform="translate(1170.7 952.9) rotate(-90)" text-anchor="middle" class="yt">Fold change</text>
<path d="M1277.4 833.3H1335.2" stroke="#000" stroke-width="2"/>
<text x="1305.7" y="823.8" text-anchor="middle" class="p"><tspan font-style="italic">p</tspan>=0.0013</text>
<path d="M1346 833.3H1466" stroke="#000" stroke-width="2"/>
<text x="1402.1" y="823.8" text-anchor="middle" class="p"><tspan font-style="italic">p</tspan>=0.0040</text>
<rect x="1652.4" y="903.4" width="38.8" height="172.9" fill="#98e4d6" stroke="#000" stroke-width="2"/>
<path d="M1671.8 903.4V898.3M1660.6 898.3H1683" stroke="#000" stroke-width="2" fill="none"/>
<circle cx="1671.1" cy="892.8" r="9.2" class="c"/>
<circle cx="1659.1" cy="904.8" r="9.2" class="c"/>
<circle cx="1683" cy="903.1" r="9.2" class="c"/>
<rect x="1714.95" y="902.7" width="38.8" height="173.6" fill="#61b79e" stroke="#000" stroke-width="2"/>
<path d="M1734.35 902.7V890.4M1723.15 890.4H1745.55" stroke="#000" stroke-width="2" fill="none"/>
<circle cx="1734" cy="880.8" r="9.2" class="c"/>
<circle cx="1722.1" cy="909.6" r="9.2" class="c"/>
<circle cx="1746" cy="908.4" r="9.2" class="c"/>
<rect x="1777.5" y="852.6" width="38.8" height="223.7" fill="#bdaad9" stroke="#000" stroke-width="2"/>
<path d="M1796.9 852.6V842.6M1785.7 842.6H1808.1" stroke="#000" stroke-width="2" fill="none"/>
<circle cx="1796.2" cy="834.2" r="9.2" class="c"/>
<circle cx="1784" cy="860" r="9.2" class="c"/>
<circle cx="1808" cy="856.9" r="9.2" class="c"/>
<rect x="1840.05" y="898.1" width="38.8" height="178.2" fill="#985cb8" stroke="#000" stroke-width="2"/>
<path d="M1859.45 898.1V892.1M1848.25 892.1H1870.65" stroke="#000" stroke-width="2" fill="none"/>
<circle cx="1858.5" cy="889.2" r="9.2" class="c"/>
<circle cx="1870.4" cy="891.6" r="9.2" class="c"/>
<circle cx="1847.5" cy="903.1" r="9.2" class="c"/>
<path d="M1629.9 803.7V1077.3" stroke="#000" stroke-width="2"/>
<path d="M1621.4 1076.3H1901.7" stroke="#000" stroke-width="2"/>
<text x="1618.8" y="1083.9" text-anchor="end" class="t">0.0</text>
<path d="M1621.4 985.77H1629.9" stroke="#000" stroke-width="2"/>
<text x="1618.8" y="993.37" text-anchor="end" class="t">0.5</text>
<path d="M1621.4 895.23H1629.9" stroke="#000" stroke-width="2"/>
<text x="1618.8" y="902.83" text-anchor="end" class="t">1.0</text>
<path d="M1621.4 804.7H1629.9" stroke="#000" stroke-width="2"/>
<text x="1618.8" y="812.3" text-anchor="end" class="t">1.5</text>
<text x="1671" y="1099.6" text-anchor="middle" font-size="22.5">SoftY</text>
<text x="1733.55" y="1099.6" text-anchor="middle" font-size="22.5">StiffY</text>
<text x="1796.1" y="1099.6" text-anchor="middle" font-size="22.5">SoftA</text>
<text x="1858.65" y="1099.6" text-anchor="middle" font-size="22.5">StiffA</text>
<path d="M1670.6 812.6H1790" stroke="#000" stroke-width="2"/>
<text x="1733.3" y="804.3" text-anchor="middle" class="p"><tspan font-style="italic">p</tspan>=0.0007</text>
<path d="M1801 812.6H1863" stroke="#000" stroke-width="2"/>
<text x="1833.8" y="804.3" text-anchor="middle" class="p"><tspan font-style="italic">p</tspan>=0.0015</text>
<rect x="1258.9" y="1303.4" width="38.8" height="105.6" fill="#98e4d6" stroke="#000" stroke-width="2"/>
<path d="M1278.3 1303.4V1285.2M1267.1 1285.2H1289.5" stroke="#000" stroke-width="2" fill="none"/>
<circle cx="1278.1" cy="1283.3" r="9.2" class="c"/>
<circle cx="1278.1" cy="1316.7" r="9.2" class="c"/>
<rect x="1321.45" y="1257" width="38.8" height="152" fill="#61b79e" stroke="#000" stroke-width="2"/>
<path d="M1340.85 1257V1249.5M1329.65 1249.5H1352.05" stroke="#000" stroke-width="2" fill="none"/>
<circle cx="1328.6" cy="1244" r="9.2" class="c"/>
<circle cx="1328.6" cy="1264.3" r="9.2" class="c"/>
<circle cx="1352.4" cy="1254.8" r="9.2" class="c"/>
<rect x="1384" y="1240.3" width="38.8" height="168.7" fill="#bdaad9" stroke="#000" stroke-width="2"/>
<path d="M1403.4 1240.3V1211.9M1392.2 1211.9H1414.6" stroke="#000" stroke-width="2" fill="none"/>
<circle cx="1402.4" cy="1186.9" r="9.2" class="c"/>
<circle cx="1414.8" cy="1256.7" r="9.2" class="c"/>
<circle cx="1391" cy="1271" r="9.2" class="c"/>
<rect x="1446.55" y="1248.6" width="38.8" height="160.4" fill="#985cb8" stroke="#000" stroke-width="2"/>
<path d="M1465.95 1248.6V1232.1M1454.75 1232.1H1477.15" stroke="#000" stroke-width="2" fill="none"/>
<circle cx="1465.5" cy="1219" r="9.2" class="c"/>
<circle cx="1453.6" cy="1264.3" r="9.2" class="c"/>
<circle cx="1477.4" cy="1256" r="9.2" class="c"/>
<path d="M1236.4 1136.4V1410" stroke="#000" stroke-width="2"/>
<path d="M1227.9 1409H1508.2" stroke="#000" stroke-width="2"/>
<text x="1225.3" y="1416.6" text-anchor="end" class="t">0.0</text>
<path d="M1227.9 1354.68H1236.4" stroke="#000" stroke-width="2"/>
<text x="1225.3" y="1362.28" text-anchor="end" class="t">0.5</text>
<path d="M1227.9 1300.36H1236.4" stroke="#000" stroke-width="2"/>
<text x="1225.3" y="1307.96" text-anchor="end" class="t">1.0</text>
<path d="M1227.9 1246.04H1236.4" stroke="#000" stroke-width="2"/>
<text x="1225.3" y="1253.64" text-anchor="end" class="t">1.5</text>
<path d="M1227.9 1191.72H1236.4" stroke="#000" stroke-width="2"/>
<text x="1225.3" y="1199.32" text-anchor="end" class="t">2.0</text>
<path d="M1227.9 1137.4H1236.4" stroke="#000" stroke-width="2"/>
<text x="1225.3" y="1145" text-anchor="end" class="t">2.5</text>
<text x="1277.5" y="1432.3" text-anchor="middle" font-size="22.5">SoftY</text>
<text x="1340.05" y="1432.3" text-anchor="middle" font-size="22.5">StiffY</text>
<text x="1402.6" y="1432.3" text-anchor="middle" font-size="22.5">SoftA</text>
<text x="1465.15" y="1432.3" text-anchor="middle" font-size="22.5">StiffA</text>
<text transform="translate(1170.7 1285.7) rotate(-90)" text-anchor="middle" class="yt">Fold change</text>
<path d="M1277.4 1159H1403.6" stroke="#000" stroke-width="2"/>
<text x="1339.9" y="1151.2" text-anchor="middle" class="p"><tspan font-style="italic">p</tspan>=0.0499</text>
<rect x="1652.4" y="1272.1" width="38.8" height="136.9" fill="#98e4d6" stroke="#000" stroke-width="2"/>
<path d="M1671.8 1272.1V1267.1M1660.6 1267.1H1683" stroke="#000" stroke-width="2" fill="none"/>
<circle cx="1671.1" cy="1263.5" r="9.2" class="c"/>
<circle cx="1659.1" cy="1274.3" r="9.2" class="c"/>
<circle cx="1683" cy="1270.7" r="9.2" class="c"/>
<rect x="1714.95" y="1265.7" width="38.8" height="143.3" fill="#61b79e" stroke="#000" stroke-width="2"/>
<path d="M1734.35 1265.7V1255.1M1723.15 1255.1H1745.55" stroke="#000" stroke-width="2" fill="none"/>
<circle cx="1734" cy="1247.9" r="9.2" class="c"/>
<circle cx="1722.1" cy="1274.7" r="9.2" class="c"/>
<circle cx="1746" cy="1267.6" r="9.2" class="c"/>
<rect x="1777.5" y="1211.4" width="38.8" height="197.6" fill="#bdaad9" stroke="#000" stroke-width="2"/>
<path d="M1796.9 1211.4V1191.2M1785.7 1191.2H1808.1" stroke="#000" stroke-width="2" fill="none"/>
<circle cx="1796.2" cy="1178.5" r="9.2" class="c"/>
<circle cx="1796.2" cy="1207.3" r="9.2" class="c"/>
<circle cx="1796.2" cy="1239.6" r="9.2" class="c"/>
<rect x="1840.05" y="1230.5" width="38.8" height="178.5" fill="#985cb8" stroke="#000" stroke-width="2"/>
<path d="M1859.45 1230.5V1222.3M1848.25 1222.3H1870.65" stroke="#000" stroke-width="2" fill="none"/>
<circle cx="1858.5" cy="1220.4" r="9.2" class="c"/>
<circle cx="1870.4" cy="1224.5" r="9.2" class="c"/>
<circle cx="1847" cy="1238.4" r="9.2" class="c"/>
<path d="M1629.9 1136.1V1410" stroke="#000" stroke-width="2"/>
<path d="M1621.4 1409H1901.7" stroke="#000" stroke-width="2"/>
<text x="1618.8" y="1434.6" text-anchor="end" class="t">0.0</text>
<path d="M1621.4 1318.37H1629.9" stroke="#000" stroke-width="2"/>
<text x="1618.8" y="1325.97" text-anchor="end" class="t">0.5</text>
<path d="M1621.4 1227.73H1629.9" stroke="#000" stroke-width="2"/>
<text x="1618.8" y="1235.33" text-anchor="end" class="t">1.0</text>
<path d="M1621.4 1137.1H1629.9" stroke="#000" stroke-width="2"/>
<text x="1618.8" y="1144.7" text-anchor="end" class="t">1.5</text>
<text x="1671" y="1432.3" text-anchor="middle" font-size="22.5">SoftY</text>
<text x="1733.55" y="1432.3" text-anchor="middle" font-size="22.5">StiffY</text>
<text x="1796.1" y="1432.3" text-anchor="middle" font-size="22.5">SoftA</text>
<text x="1858.65" y="1432.3" text-anchor="middle" font-size="22.5">StiffA</text>
<path d="M1670.6 1164.7H1796.7" stroke="#000" stroke-width="2"/>
<text x="1733.6" y="1157" text-anchor="middle" class="p"><tspan font-style="italic">p</tspan>=0.0029</text>
<path d="M1733.3 1134.3H1858.9" stroke="#000" stroke-width="2"/>
<text x="1796.3" y="1125.9" text-anchor="middle" class="p"><tspan font-style="italic">p</tspan>=0.0405</text>
<rect x="1258.9" y="1568.4" width="38.8" height="178" fill="#98e4d6" stroke="#000" stroke-width="2"/>
<path d="M1278.3 1568.4V1557.9M1267.1 1557.9H1289.5" stroke="#000" stroke-width="2" fill="none"/>
<circle cx="1266" cy="1572.9" r="9.2" class="c"/>
<circle cx="1289.8" cy="1557.9" r="9.2" class="c"/>
<rect x="1321.45" y="1586.2" width="38.8" height="160.2" fill="#61b79e" stroke="#000" stroke-width="2"/>
<path d="M1340.85 1586.2V1582.1M1329.65 1582.1H1352.05" stroke="#000" stroke-width="2" fill="none"/>
<circle cx="1328.6" cy="1587.6" r="9.2" class="c"/>
<circle cx="1340.5" cy="1579.3" r="9.2" class="c"/>
<circle cx="1352.4" cy="1582.9" r="9.2" class="c"/>
<rect x="1384" y="1560" width="38.8" height="186.4" fill="#bdaad9" stroke="#000" stroke-width="2"/>
<path d="M1403.4 1560V1547.1M1392.2 1547.1H1414.6" stroke="#000" stroke-width="2" fill="none"/>
<circle cx="1402.9" cy="1534.8" r="9.2" class="c"/>
<circle cx="1391" cy="1571" r="9.2" class="c"/>
<circle cx="1414.8" cy="1567.4" r="9.2" class="c"/>
<rect x="1446.55" y="1572.4" width="38.8" height="174" fill="#985cb8" stroke="#000" stroke-width="2"/>
<path d="M1465.95 1572.4V1566.9M1454.75 1566.9H1477.15" stroke="#000" stroke-width="2" fill="none"/>
<circle cx="1465.5" cy="1561.4" r="9.2" class="c"/>
<circle cx="1453.6" cy="1574.5" r="9.2" class="c"/>
<circle cx="1477.4" cy="1572.9" r="9.2" class="c"/>
<path d="M1236.4 1473.5V1747.4" stroke="#000" stroke-width="2"/>
<path d="M1227.9 1746.4H1508.2" stroke="#000" stroke-width="2"/>
<text x="1225.3" y="1754" text-anchor="end" class="t">0.0</text>
<path d="M1227.9 1655.77H1236.4" stroke="#000" stroke-width="2"/>
<text x="1225.3" y="1663.37" text-anchor="end" class="t">0.5</text>
<path d="M1227.9 1565.13H1236.4" stroke="#000" stroke-width="2"/>
<text x="1225.3" y="1572.73" text-anchor="end" class="t">1.0</text>
<path d="M1227.9 1474.5H1236.4" stroke="#000" stroke-width="2"/>
<text x="1225.3" y="1482.1" text-anchor="end" class="t">1.5</text>
<text x="1277.5" y="1769.7" text-anchor="middle" font-size="22.5">SoftY</text>
<text x="1340.05" y="1769.7" text-anchor="middle" font-size="22.5">StiffY</text>
<text x="1402.6" y="1769.7" text-anchor="middle" font-size="22.5">SoftA</text>
<text x="1465.15" y="1769.7" text-anchor="middle" font-size="22.5">StiffA</text>
<text transform="translate(1170.7 1623.3) rotate(-90)" text-anchor="middle" class="yt">Fold change</text>
<rect x="1652.4" y="1600.2" width="38.8" height="145.7" fill="#98e4d6" stroke="#000" stroke-width="2"/>
<path d="M1671.8 1600.2V1598M1660.6 1598H1683" stroke="#000" stroke-width="2" fill="none"/>
<circle cx="1659.1" cy="1598.7" r="9.2" class="c"/>
<circle cx="1671.1" cy="1595.1" r="9.2" class="c"/>
<circle cx="1683" cy="1598.7" r="9.2" class="c"/>
<rect x="1714.95" y="1595.6" width="38.8" height="150.3" fill="#61b79e" stroke="#000" stroke-width="2"/>
<path d="M1734.35 1595.6V1587.2M1723.15 1587.2H1745.55" stroke="#000" stroke-width="2" fill="none"/>
<circle cx="1722.1" cy="1582" r="9.2" class="c"/>
<circle cx="1722.1" cy="1602.8" r="9.2" class="c"/>
<circle cx="1746" cy="1595.1" r="9.2" class="c"/>
<rect x="1777.5" y="1543" width="38.8" height="202.9" fill="#bdaad9" stroke="#000" stroke-width="2"/>
<path d="M1796.9 1543V1528.1M1785.7 1528.1H1808.1" stroke="#000" stroke-width="2" fill="none"/>
<circle cx="1796.2" cy="1516.1" r="9.2" class="c"/>
<circle cx="1784.8" cy="1558" r="9.2" class="c"/>
<circle cx="1808" cy="1549.6" r="9.2" class="c"/>
<rect x="1840.05" y="1567.9" width="38.8" height="178" fill="#985cb8" stroke="#000" stroke-width="2"/>
<path d="M1859.45 1567.9V1562.3M1848.25 1562.3H1870.65" stroke="#000" stroke-width="2" fill="none"/>
<circle cx="1858.5" cy="1558" r="9.2" class="c"/>
<circle cx="1870.4" cy="1564" r="9.2" class="c"/>
<circle cx="1847" cy="1571.2" r="9.2" class="c"/>
<path d="M1629.9 1473.3V1746.9" stroke="#000" stroke-width="2"/>
<path d="M1621.4 1745.9H1901.7" stroke="#000" stroke-width="2"/>
<text x="1618.8" y="1753.5" text-anchor="end" class="t">0.0</text>
<path d="M1621.4 1655.37H1629.9" stroke="#000" stroke-width="2"/>
<text x="1618.8" y="1662.97" text-anchor="end" class="t">0.5</text>
<path d="M1621.4 1564.83H1629.9" stroke="#000" stroke-width="2"/>
<text x="1618.8" y="1572.43" text-anchor="end" class="t">1.0</text>
<path d="M1621.4 1474.3H1629.9" stroke="#000" stroke-width="2"/>
<text x="1618.8" y="1481.9" text-anchor="end" class="t">1.5</text>
<text x="1671" y="1769.2" text-anchor="middle" font-size="22.5">SoftY</text>
<text x="1733.55" y="1769.2" text-anchor="middle" font-size="22.5">StiffY</text>
<text x="1796.1" y="1769.2" text-anchor="middle" font-size="22.5">SoftA</text>
<text x="1858.65" y="1769.2" text-anchor="middle" font-size="22.5">StiffA</text>
<path d="M1733.3 1467.6H1858.9" stroke="#000" stroke-width="2"/>
<text x="1796.3" y="1459.9" text-anchor="middle" class="p"><tspan font-style="italic">p</tspan>=0.0253</text>
<path d="M1670.6 1498.7H1788.3" stroke="#000" stroke-width="2"/>
<text x="1739.3" y="1489.8" text-anchor="middle" class="p"><tspan font-style="italic">p</tspan>=0.0005</text>
<path d="M1802 1498.7H1858.9" stroke="#000" stroke-width="2"/>
<text x="1830" y="1489.8" text-anchor="middle" class="p"><tspan font-style="italic">p</tspan>=0.0396</text>
<rect x="1258.9" y="1957.9" width="38.8" height="133.5" fill="#98e4d6" stroke="#000" stroke-width="2"/>
<path d="M1267.1 1956.2H1289.5" stroke="#000" stroke-width="2" fill="none"/>
<circle cx="1266" cy="1956.2" r="9.2" class="c"/>
<circle cx="1289.8" cy="1956.2" r="9.2" class="c"/>
<rect x="1321.45" y="1950" width="38.8" height="141.4" fill="#61b79e" stroke="#000" stroke-width="2"/>
<path d="M1340.85 1950V1932.4M1329.65 1932.4H1352.05" stroke="#000" stroke-width="2" fill="none"/>
<circle cx="1328.6" cy="1927.6" r="9.2" class="c"/>
<circle cx="1352.4" cy="1938.3" r="9.2" class="c"/>
<circle cx="1340.5" cy="1976.4" r="9.2" class="c"/>
<rect x="1384" y="1895.3" width="38.8" height="196.1" fill="#bdaad9" stroke="#000" stroke-width="2"/>
<path d="M1403.4 1895.3V1867.6M1392.2 1867.6H1414.6" stroke="#000" stroke-width="2" fill="none"/>
<circle cx="1402.4" cy="1846.7" r="9.2" class="c"/>
<circle cx="1402.4" cy="1896.7" r="9.2" class="c"/>
<circle cx="1402.4" cy="1936" r="9.2" class="c"/>
<rect x="1446.55" y="1896" width="38.8" height="195.4" fill="#985cb8" stroke="#000" stroke-width="2"/>
<path d="M1465.95 1896V1884.8M1454.75 1884.8H1477.15" stroke="#000" stroke-width="2" fill="none"/>
<circle cx="1453.6" cy="1881.2" r="9.2" class="c"/>
<circle cx="1477.4" cy="1888.3" r="9.2" class="c"/>
<circle cx="1465.5" cy="1909.8" r="9.2" class="c"/>
<path d="M1236.4 1819V2092.4" stroke="#000" stroke-width="2"/>
<path d="M1227.9 2091.4H1508.2" stroke="#000" stroke-width="2"/>
<text x="1225.3" y="2099" text-anchor="end" class="t">0.0</text>
<path d="M1227.9 2023.55H1236.4" stroke="#000" stroke-width="2"/>
<text x="1225.3" y="2031.15" text-anchor="end" class="t">0.5</text>
<path d="M1227.9 1955.7H1236.4" stroke="#000" stroke-width="2"/>
<text x="1225.3" y="1963.3" text-anchor="end" class="t">1.0</text>
<path d="M1227.9 1887.85H1236.4" stroke="#000" stroke-width="2"/>
<text x="1225.3" y="1895.45" text-anchor="end" class="t">1.5</text>
<path d="M1227.9 1820H1236.4" stroke="#000" stroke-width="2"/>
<text x="1225.3" y="1827.6" text-anchor="end" class="t">2.0</text>
<text x="1277.5" y="2114.7" text-anchor="middle" font-size="20">SoftY</text>
<text x="1340.05" y="2114.7" text-anchor="middle" font-size="20">StiffY</text>
<text x="1402.6" y="2114.7" text-anchor="middle" font-size="20">SoftA</text>
<text x="1465.15" y="2114.7" text-anchor="middle" font-size="20">StiffA</text>
<text transform="translate(1170.7 1968.1) rotate(-90)" text-anchor="middle" class="yt">Fold change</text>
<path d="M1277.4 1853.1H1403.6" stroke="#000" stroke-width="2"/>
<text x="1339.9" y="1845.5" text-anchor="middle" class="p"><tspan font-style="italic">p</tspan>=0.0452</text>
<rect x="1652.4" y="1911.4" width="38.8" height="180.4" fill="#98e4d6" stroke="#000" stroke-width="2"/>
<path d="M1671.8 1911.4V1904M1660.6 1904H1683" stroke="#000" stroke-width="2" fill="none"/>
<circle cx="1671.1" cy="1898.4" r="9.2" class="c"/>
<circle cx="1659.1" cy="1917.6" r="9.2" class="c"/>
<circle cx="1683" cy="1911.1" r="9.2" class="c"/>
<rect x="1714.95" y="1943.2" width="38.8" height="148.6" fill="#61b79e" stroke="#000" stroke-width="2"/>
<path d="M1734.35 1943.2V1932.7M1723.15 1932.7H1745.55" stroke="#000" stroke-width="2" fill="none"/>
<circle cx="1722.1" cy="1930.8" r="9.2" class="c"/>
<circle cx="1745.3" cy="1934.3" r="9.2" class="c"/>
<circle cx="1733.3" cy="1957.1" r="9.2" class="c"/>
<rect x="1777.5" y="1893.5" width="38.8" height="198.3" fill="#bdaad9" stroke="#000" stroke-width="2"/>
<path d="M1796.9 1893.5V1871.4M1785.7 1871.4H1808.1" stroke="#000" stroke-width="2" fill="none"/>
<circle cx="1784" cy="1866.1" r="9.2" class="c"/>
<circle cx="1808" cy="1876.9" r="9.2" class="c"/>
<circle cx="1796.2" cy="1930.3" r="9.2" class="c"/>
<rect x="1840.05" y="1912.6" width="38.8" height="179.2" fill="#985cb8" stroke="#000" stroke-width="2"/>
<path d="M1859.45 1912.6V1910.4M1848.25 1910.4H1870.65" stroke="#000" stroke-width="2" fill="none"/>
<circle cx="1847" cy="1910.4" r="9.2" class="c"/>
<circle cx="1858.5" cy="1908.7" r="9.2" class="c"/>
<circle cx="1870.4" cy="1910.4" r="9.2" class="c"/>
<path d="M1629.9 1819V2092.8" stroke="#000" stroke-width="2"/>
<path d="M1621.4 2091.8H1901.7" stroke="#000" stroke-width="2"/>
<text x="1618.8" y="2099.4" text-anchor="end" class="t">0.0</text>
<path d="M1621.4 2001.2H1629.9" stroke="#000" stroke-width="2"/>
<text x="1618.8" y="2008.8" text-anchor="end" class="t">0.5</text>
<path d="M1621.4 1910.6H1629.9" stroke="#000" stroke-width="2"/>
<text x="1618.8" y="1918.2" text-anchor="end" class="t">1.0</text>
<path d="M1621.4 1820H1629.9" stroke="#000" stroke-width="2"/>
<text x="1618.8" y="1827.6" text-anchor="end" class="t">1.5</text>
<text x="1671" y="2115.1" text-anchor="middle" font-size="20">SoftY</text>
<text x="1733.55" y="2115.1" text-anchor="middle" font-size="20">StiffY</text>
<text x="1796.1" y="2115.1" text-anchor="middle" font-size="20">SoftA</text>
<text x="1858.65" y="2115.1" text-anchor="middle" font-size="20">StiffA</text>
<rect x="1259.9" y="2242.4" width="53.2" height="206.6" fill="#bfd7e6" stroke="#000" stroke-width="2"/>
<path d="M1286.5 2242.4V2236M1271.8 2236H1300.7" stroke="#000" stroke-width="2" fill="none"/>
<path d="M1231.7 2172.6V2450" stroke="#000" stroke-width="2"/>
<path d="M1221.5 2449H1507.6" stroke="#000" stroke-width="2"/>
<text x="1216.9" y="2456.6" text-anchor="end" class="t">0</text>
<path d="M1221.5 2380.15H1231.7" stroke="#000" stroke-width="2"/>
<text x="1216.9" y="2387.75" text-anchor="end" class="t">100</text>
<path d="M1221.5 2311.3H1231.7" stroke="#000" stroke-width="2"/>
<text x="1216.9" y="2318.9" text-anchor="end" class="t">200</text>
<path d="M1221.5 2242.45H1231.7" stroke="#000" stroke-width="2"/>
<text x="1216.9" y="2250.05" text-anchor="end" class="t">300</text>
<path d="M1221.5 2173.6H1231.7" stroke="#000" stroke-width="2"/>
<text x="1216.9" y="2181.2" text-anchor="end" class="t">400</text>
<circle cx="1265.8" cy="2232.1" r="6.8" fill="#9cc3e3" fill-opacity="0.75" stroke="#7d8e9c" stroke-width="1.2"/>
<circle cx="1265.8" cy="2248" r="6.8" fill="#9cc3e3" fill-opacity="0.75" stroke="#7d8e9c" stroke-width="1.2"/>
<circle cx="1307.2" cy="2242" r="6.8" fill="#9cc3e3" fill-opacity="0.75" stroke="#7d8e9c" stroke-width="1.2"/>
<circle cx="1348.8" cy="2449" r="6.8" fill="#7fe6c8" fill-opacity="0.8" stroke="#6f8f87" stroke-width="1.2"/>
<circle cx="1369.5" cy="2447.9" r="6.8" fill="#7fe6c8" fill-opacity="0.8" stroke="#6f8f87" stroke-width="1.2"/>
<circle cx="1390" cy="2449" r="6.8" fill="#7fe6c8" fill-opacity="0.8" stroke="#6f8f87" stroke-width="1.2"/>
<circle cx="1431.7" cy="2449" r="6.8" fill="#d4869f" fill-opacity="0.8" stroke="#8f6f7a" stroke-width="1.2"/>
<circle cx="1452.3" cy="2449" r="6.8" fill="#d4869f" fill-opacity="0.8" stroke="#8f6f7a" stroke-width="1.2"/>
<circle cx="1472.7" cy="2449" r="6.8" fill="#d4869f" fill-opacity="0.8" stroke="#8f6f7a" stroke-width="1.2"/>
<text x="1286.4" y="2476.5" text-anchor="middle" font-size="22">Vim</text>
<text x="1369.7" y="2476.5" text-anchor="middle" font-size="22">Tnni3</text>
<text x="1451.5" y="2476.5" text-anchor="middle" font-size="22">Pecam1</text>
<text transform="translate(1168.7 2311) rotate(-90)" text-anchor="middle" class="yt" style="font-size:24.5px">Rel. Expression (TPM)</text>
<path d="M1285.7 2175.7H1452.4" stroke="#000" stroke-width="2"/>
<text x="1368.5" y="2168.1" text-anchor="middle" class="p"><tspan font-style="italic">p</tspan>&lt;0.0001</text>
<path d="M1285.7 2206.7H1369.8" stroke="#000" stroke-width="2"/>
<text x="1326.8" y="2199" text-anchor="middle" class="p"><tspan font-style="italic">p</tspan>&lt;0.0001</text>
<rect x="1655.3" y="2224.8" width="50.7" height="224.7" fill="#bfd7e6" stroke="#000" stroke-width="2"/>
<path d="M1680.65 2224.8V2220.2M1666.4 2220.2H1695.2" stroke="#000" stroke-width="2" fill="none"/>
<path d="M1626.1 2173.8V2450.5" stroke="#000" stroke-width="2"/>
<path d="M1616 2449.5H1902" stroke="#000" stroke-width="2"/>
<text x="1614" y="2457.1" text-anchor="end" class="t">0</text>
<path d="M1616 2357.93H1626.1" stroke="#000" stroke-width="2"/>
<text x="1614" y="2365.53" text-anchor="end" class="t">100</text>
<path d="M1616 2266.37H1626.1" stroke="#000" stroke-width="2"/>
<text x="1614" y="2273.97" text-anchor="end" class="t">200</text>
<path d="M1616 2174.8H1626.1" stroke="#000" stroke-width="2"/>
<text x="1614" y="2182.4" text-anchor="end" class="t">300</text>
<circle cx="1681.1" cy="2216.6" r="6.8" fill="#9cc3e3" fill-opacity="0.75" stroke="#7d8e9c" stroke-width="1.2"/>
<circle cx="1660.8" cy="2225.7" r="6.8" fill="#9cc3e3" fill-opacity="0.75" stroke="#7d8e9c" stroke-width="1.2"/>
<circle cx="1701.5" cy="2224.5" r="6.8" fill="#9cc3e3" fill-opacity="0.75" stroke="#7d8e9c" stroke-width="1.2"/>
<circle cx="1742.9" cy="2449" r="6.8" fill="#7fe6c8" fill-opacity="0.8" stroke="#6f8f87" stroke-width="1.2"/>
<circle cx="1763.2" cy="2449" r="6.8" fill="#7fe6c8" fill-opacity="0.8" stroke="#6f8f87" stroke-width="1.2"/>
<circle cx="1784" cy="2449" r="6.8" fill="#7fe6c8" fill-opacity="0.8" stroke="#6f8f87" stroke-width="1.2"/>
<circle cx="1825.9" cy="2449" r="6.8" fill="#d4869f" fill-opacity="0.8" stroke="#8f6f7a" stroke-width="1.2"/>
<circle cx="1845.8" cy="2449" r="6.8" fill="#d4869f" fill-opacity="0.8" stroke="#8f6f7a" stroke-width="1.2"/>
<circle cx="1866.1" cy="2449" r="6.8" fill="#d4869f" fill-opacity="0.8" stroke="#8f6f7a" stroke-width="1.2"/>
<text x="1680.6" y="2477" text-anchor="middle" font-size="22">Vim</text>
<text x="1763.2" y="2477" text-anchor="middle" font-size="22">Tnni3</text>
<text x="1845.2" y="2477" text-anchor="middle" font-size="22">Pecam1</text>
<path d="M1689 2170.2H1855.4" stroke="#000" stroke-width="2"/>
<text x="1771" y="2163" text-anchor="middle" class="p"><tspan font-style="italic">p</tspan>&lt;0.0001</text>
<path d="M1689 2200.6H1772.8" stroke="#000" stroke-width="2"/>
<text x="1729.5" y="2193.4" text-anchor="middle" class="p"><tspan font-style="italic">p</tspan>&lt;0.0001</text>
<text x="0.5" y="128.3" class="b">a</text>
<text x="0.5" y="464.1" class="b">b</text>
<text x="0.5" y="813.7" class="b">c</text>
<text x="0.5" y="1146.2" class="b">d</text>
<text x="0.5" y="1455.7" class="b">e</text>
<text x="0.5" y="1828.3" class="b">f</text>
<text x="0.5" y="2182" class="b">g</text>
<text x="978" y="128.5" class="b">h</text>
<text x="978" y="463.9" class="b">i</text>
<text x="978" y="813.9" class="b">j</text>
<text x="978" y="1146.4" class="b">k</text>
<text x="978" y="1485" class="b">l</text>
<text x="978" y="1828.5" class="b">m</text>
<text x="978" y="2180" class="b">n</text>
<text x="66.5" y="278.4" text-anchor="middle" class="b">Myl9</text>
<text x="66.5" y="632.1" text-anchor="middle" class="b">Ptk2</text>
<text x="66.5" y="942.7" text-anchor="middle" class="b">Pxn</text>
<text x="66.5" y="1300.5" text-anchor="middle" class="b">Itgb1</text>
<text x="66.5" y="1621" text-anchor="middle" class="b">Itgav</text>
<text x="66.5" y="1989.4" text-anchor="middle" class="b">Loxl2</text>
<text x="66.5" y="2336.9" text-anchor="middle" class="b">Loxl4</text>
<text x="1064.3" y="256" text-anchor="middle" class="b">Mmp3</text>
<text x="1064.3" y="601.5" text-anchor="middle" class="b">Col1a2</text>
<text x="1064.3" y="963.7" text-anchor="middle" class="b">Col3a1</text>
<text x="1064.3" y="1280.5" text-anchor="middle" class="b">Col8a1</text>
<text x="1064.3" y="1630.2" text-anchor="middle" class="b">Sparc</text>
<text x="1064.3" y="1956" text-anchor="middle" class="b">Il6</text>
<text x="1021.6" y="2318.8" text-anchor="middle" class="b">Isolated</text>
<text x="1021.6" y="2353.5" text-anchor="middle" class="b">CF cell type</text>
<text x="1025.4" y="2388.4" text-anchor="middle" class="b">markers</text>
</svg></body></html>
